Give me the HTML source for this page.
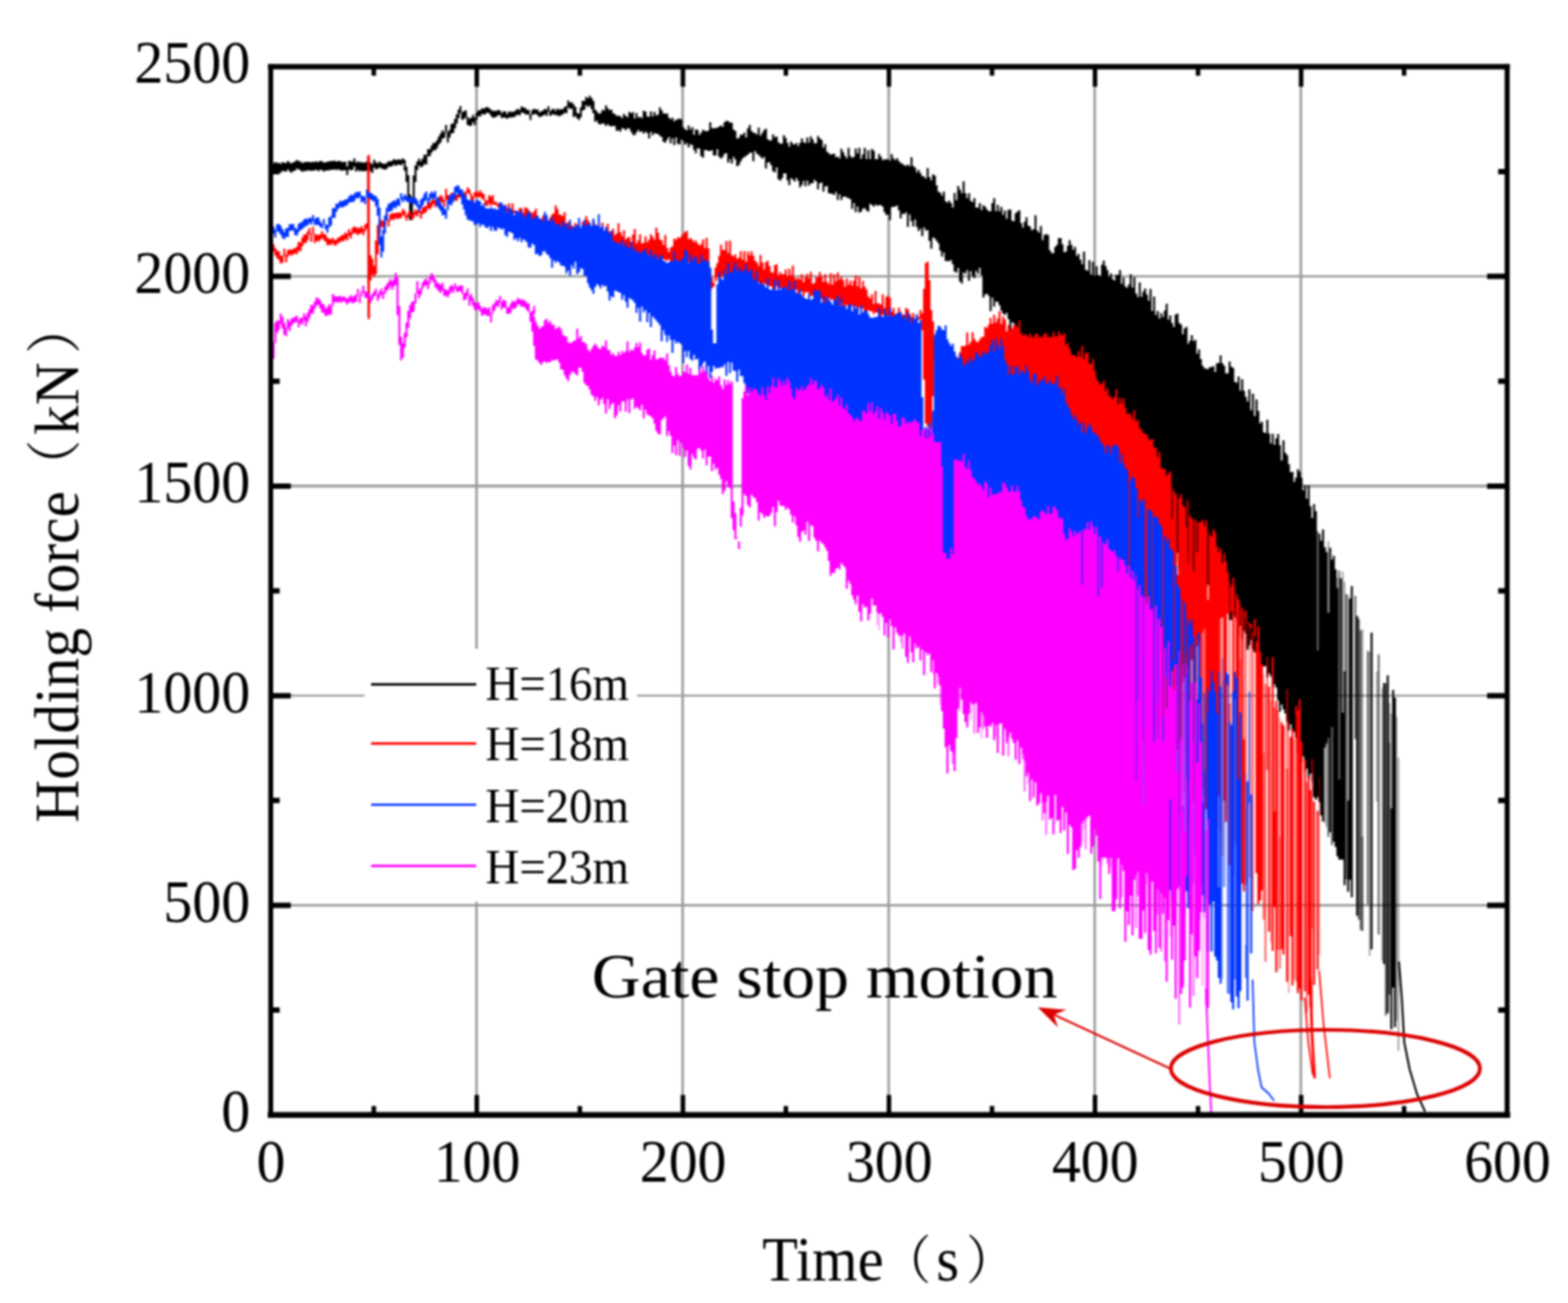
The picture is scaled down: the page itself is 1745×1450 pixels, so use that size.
<!DOCTYPE html>
<html lang="en"><head><meta charset="utf-8"><title>Holding force vs time</title>
<style>
html,body{margin:0;padding:0;background:#fff;}
body{width:1745px;height:1450px;overflow:hidden;}
svg{display:block;filter:blur(0.8px);}
</style></head>
<body>
<svg width="1745" height="1450" viewBox="0 0 1745 1450" role="img" aria-label="Holding force versus time for four water heads">
<rect width="1745" height="1450" fill="#fff"/>
<g stroke="#9c9c9c" fill="none">
<path d="M530.3 74.3V1240.8" stroke-width="2.8"/>
<path d="M759.7 74.3V1240.8" stroke-width="2.8"/>
<path d="M989 74.3V1240.8" stroke-width="2.8"/>
<path d="M1218.3 74.3V1240.8" stroke-width="2.8"/>
<path d="M1447.7 74.3V1240.8" stroke-width="2.8"/>
<path d="M301.3 1007.4H1677.3" stroke-width="2.6"/>
<path d="M301.3 774.1H1677.3" stroke-width="2.1"/>
<path d="M301.3 540.8H1677.3" stroke-width="3.3"/>
<path d="M301.3 307.5H1677.3" stroke-width="2.7"/>
</g>
<rect x="405.6" y="722" width="303.4" height="281.5" fill="#fff"/>
<g id="curves">
<g><path d="M665.3 126.4H667.5V137.8H665.3ZM667.3 125.9H669.5V138.5H667.3ZM669.3 122.2H671.5V137.2H669.3ZM671.3 122.9H673.5V137.8H671.3ZM673.3 117.2H675.5V140.3H673.3ZM675.3 120.4H677.5V138.2H675.3ZM677.3 122.4H679.5V140H677.3ZM679.3 122.1H681.5V140.7H679.3ZM681.3 126H683.5V140.1H681.3ZM683.3 127H685.5V140.5H683.3ZM685.3 129.2H687.5V145.7H685.3ZM687.3 128.6H689.5V144.7H687.3ZM689.3 129.6H691.5V146.5H689.3ZM691.3 131.4H693.5V142.7H691.3ZM693.3 126.8H695.5V142.9H693.3ZM695.3 129H697.5V145.1H695.3ZM697.3 130.4H699.5V142.7H697.3ZM699.3 124.5H701.5V142.9H699.3ZM701.3 125.9H703.5V146.4H701.3ZM703.3 124.8H705.5V149.8H703.3ZM705.3 131.8H707.5V150.6H705.3ZM707.3 125.7H709.5V147.2H707.3ZM709.3 130.7H711.5V144.6H709.3ZM711.3 129.9H713.5V147H711.3ZM713.3 131.4H715.5V145.9H713.3ZM715.3 123.2H717.5V148.8H715.3ZM717.3 124.3H719.5V146.4H717.3ZM719.3 129.4H721.5V148.1H719.3ZM721.3 129.9H723.5V153.9H721.3ZM723.3 124.1H725.5V146.7H723.3ZM725.3 129.5H727.5V150.6H725.3ZM727.3 124.5H729.5V147.9H727.3ZM729.3 128.5H731.5V149H729.3ZM731.3 127.5H733.5V149H731.3ZM733.3 119.5H735.5V151.2H733.3ZM735.3 122.8H737.5V152.4H735.3ZM737.3 126.2H739.5V157.7H737.3ZM739.3 126.6H741.5V158.7H739.3ZM741.3 126.2H743.5V155.4H741.3ZM743.3 130.7H745.5V152.4H743.3ZM745.3 132.7H747.5V159.5H745.3ZM747.3 131H749.5V154H747.3ZM749.3 134.9H751.5V161.4H749.3ZM751.3 133.2H753.5V152.9H751.3ZM753.3 132.8H755.5V159.9H753.3ZM755.3 131.7H757.5V160.8H755.3ZM757.3 132.9H759.5V155.2H757.3ZM759.3 141.7H761.5V156.9H759.3ZM761.3 143.7H763.5V161H761.3ZM763.3 145H765.5V159.3H763.3ZM765.3 139.7H767.5V164H765.3ZM767.3 144.3H769.5V160.4H767.3ZM769.3 141.5H771.5V161.4H769.3ZM771.3 150.1H773.5V166.8H771.3ZM773.3 143.9H775.5V170.5H773.3ZM775.3 144.8H777.5V165H775.3ZM777.3 150.3H779.5V165.6H777.3ZM779.3 147.8H781.5V173.7H779.3ZM781.3 144.6H783.5V175.4H781.3ZM783.3 145.6H785.5V166.9H783.3ZM785.3 146.2H787.5V167.1H785.3ZM787.3 145.3H789.5V168H787.3ZM789.3 135.9H791.5V167.9H789.3ZM791.3 142.5H793.5V166.9H791.3ZM793.3 142.7H795.5V172.9H793.3ZM795.3 142.4H797.5V173.1H795.3ZM797.3 142H799.5V166.1H797.3ZM799.3 140.9H801.5V174.6H799.3ZM801.3 139.6H803.5V176.6H801.3ZM803.3 141.3H805.5V174.6H803.3ZM805.3 136.1H807.5V170.9H805.3ZM807.3 134.4H809.5V170.5H807.3ZM809.3 134.7H811.5V181H809.3ZM811.3 136.5H813.5V177.3H811.3ZM813.3 136.4H815.5V181.9H813.3ZM815.3 144.3H817.5V174.4H815.3ZM817.3 145.7H819.5V177.5H817.3ZM819.3 154.2H821.5V184.9H819.3ZM821.3 153.4H823.5V183.6H821.3ZM823.3 149.8H825.5V179.5H823.3ZM825.3 149.9H827.5V176.3H825.3ZM827.3 147.4H829.5V174.7H827.3ZM829.3 153H831.5V173.4H829.3ZM831.3 142.7H833.5V171.9H831.3ZM833.3 139.1H835.5V169.9H833.3ZM835.3 145.7H837.5V169.7H835.3ZM837.3 147.8H839.5V179.6H837.3ZM839.3 148.1H841.5V167.9H839.3ZM841.3 149.8H843.5V170.9H841.3ZM843.3 142.1H845.5V172.4H843.3ZM845.3 150.9H847.5V174.6H845.3ZM847.3 148H849.5V176.4H847.3ZM849.3 144.7H851.5V174.6H849.3ZM851.3 143.3H853.5V187.6H851.3ZM853.3 155.1H855.5V181.1H853.3ZM855.3 156.3H857.5V180.6H855.3ZM857.3 156.3H859.5V183.9H857.3ZM859.3 149.4H861.5V190.5H859.3ZM861.3 152.7H863.5V191.7H861.3ZM863.3 152H865.5V186.2H863.3ZM865.3 158.2H867.5V199.4H865.3ZM867.3 160H869.5V201.1H867.3ZM869.3 159.8H871.5V198.3H869.3ZM871.3 150.4H873.5V193.1H871.3ZM873.3 153.5H875.5V193H873.3ZM875.3 158.9H877.5V200.7H875.3ZM877.3 163.3H879.5V206H877.3ZM879.3 157.6H881.5V198.3H879.3ZM881.3 160H883.5V199.8H881.3ZM883.3 161.1H885.5V202H883.3ZM885.3 159H887.5V197.9H885.3ZM887.3 162.6H889.5V201.2H887.3ZM889.3 159H891.5V208.4H889.3ZM891.3 154.1H893.5V205.7H891.3ZM893.3 158.3H895.5V201.3H893.3ZM895.3 159.2H897.5V207.3H895.3ZM897.3 153H899.5V201.1H897.3ZM899.3 158.8H901.5V206.4H899.3ZM901.3 151.7H903.5V203.9H901.3ZM903.3 154.9H905.5V204H903.3ZM905.3 159.3H907.5V200.1H905.3ZM907.3 159.6H909.5V201.9H907.3ZM909.3 151.2H911.5V210.7H909.3ZM911.3 154H913.5V204.1H911.3ZM913.3 155.7H915.5V203.1H913.3ZM915.3 164.3H917.5V213.2H915.3ZM917.3 160.4H919.5V207.5H917.3ZM919.3 168.7H921.5V207.1H919.3ZM921.3 170.6H923.5V215.1H921.3ZM923.3 171.9H925.5V215.4H923.3ZM925.3 171.5H927.5V215.8H925.3ZM927.3 171.1H929.5V217H927.3ZM929.3 174.9H931.5V213.6H929.3ZM931.3 174.2H933.5V222.6H931.3ZM933.3 176.3H935.5V216.2H933.3ZM935.3 165.4H937.5V222.6H935.3ZM937.3 169.2H939.5V218.9H937.3ZM939.3 173.4H941.5V218.5H939.3ZM941.3 176.3H943.5V219.7H941.3ZM943.3 164.4H945.5V220.5H943.3ZM945.3 173.6H947.5V221.7H945.3ZM947.3 175.7H949.5V232.6H947.3ZM949.3 174.4H951.5V225.9H949.3ZM951.3 165.3H953.5V236H951.3ZM953.3 170.8H955.5V229.7H953.3ZM955.3 164.5H957.5V236.6H955.3ZM957.3 176.7H959.5V235.6H957.3ZM959.3 171.7H961.5V232.2H959.3ZM961.3 164.6H963.5V231.4H961.3ZM963.3 177H965.5V234.3H963.3ZM965.3 167.3H967.5V235.4H965.3ZM967.3 177H969.5V226.8H967.3ZM969.3 165.8H971.5V228H969.3ZM971.3 167.7H973.5V229.9H971.3ZM973.3 176.9H975.5V227.6H973.3ZM975.3 177.3H977.5V228.9H975.3ZM977.3 171.3H979.5V228.2H977.3ZM979.3 174.6H981.5V228.2H979.3ZM981.3 178.3H983.5V230H981.3ZM983.3 177.2H985.5V235.9H983.3ZM985.3 177.5H987.5V239.2H985.3ZM987.3 176.9H989.5V238.8H987.3ZM989.3 178.9H991.5V245H989.3ZM991.3 171.5H993.5V230.6H991.3ZM993.3 176.2H995.5V230.3H993.3ZM995.3 178.3H997.5V229.8H995.3ZM997.3 176.1H999.5V228.8H997.3ZM999.3 179.2H1001.5V233.9H999.3ZM1001.3 181.2H1003.5V243.1H1001.3ZM1003.3 182.5H1005.5V237.8H1003.3ZM1005.3 183.7H1007.5V238.2H1005.3ZM1007.3 184.8H1009.5V236.2H1007.3ZM1009.3 183.1H1011.5V252.6H1009.3ZM1011.3 185H1013.5V238.7H1011.3ZM1013.3 175.1H1015.5V246.2H1013.3ZM1015.3 184.7H1017.5V251.9H1015.3ZM1017.3 186.4H1019.5V244.3H1017.3ZM1019.3 191.7H1021.5V252.4H1019.3ZM1021.3 189H1023.5V256.9H1021.3ZM1023.3 192.7H1025.5V254.4H1023.3ZM1025.3 195.9H1027.5V262.7H1025.3ZM1027.3 196.5H1029.5V253H1027.3ZM1029.3 198.7H1031.5V256.4H1029.3ZM1031.3 187H1033.5V256H1031.3ZM1033.3 197.1H1035.5V268H1033.3ZM1035.3 200.7H1037.5V276.7H1035.3ZM1037.3 194.1H1039.5V264.2H1037.3ZM1039.3 195.4H1041.5V265.3H1039.3ZM1041.3 206.2H1043.5V267.9H1041.3ZM1043.3 213.3H1045.5V270.8H1043.3ZM1045.3 214.4H1047.5V279.1H1045.3ZM1047.3 217.7H1049.5V285.6H1047.3ZM1049.3 213.3H1051.5V281H1049.3ZM1051.3 223.9H1053.5V290.6H1051.3ZM1053.3 225.4H1055.5V290.3H1053.3ZM1055.3 223.3H1057.5V290.7H1055.3ZM1057.3 225.9H1059.5V289.2H1057.3ZM1059.3 231.1H1061.5V294.1H1059.3ZM1061.3 214.8H1063.5V302H1061.3ZM1063.3 222.7H1065.5V303.5H1063.3ZM1065.3 207.1H1067.5V298.3H1065.3ZM1067.3 210.9H1069.5V313.2H1067.3ZM1069.3 215.1H1071.5V315.5H1069.3ZM1071.3 201.8H1073.5V303.2H1071.3ZM1073.3 215H1075.5V304.6H1073.3ZM1075.3 220.5H1077.5V300.8H1075.3ZM1077.3 215.1H1079.5V312.6H1077.3ZM1079.3 223.6H1081.5V301.7H1079.3ZM1081.3 225.1H1083.5V307.2H1081.3ZM1083.3 220.5H1085.5V309.6H1083.3ZM1085.3 231H1087.5V301.4H1085.3ZM1087.3 230.9H1089.5V304.8H1087.3ZM1089.3 226H1091.5V297.9H1089.3ZM1091.3 233.7H1093.5V306.3H1091.3ZM1093.3 228.4H1095.5V331.3H1093.3ZM1095.3 230.1H1097.5V327.8H1095.3ZM1097.3 233H1099.5V326.7H1097.3ZM1099.3 234.9H1101.5V329.3H1099.3ZM1101.3 235H1103.5V346.3H1101.3ZM1103.3 226H1105.5V331.2H1103.3ZM1105.3 220.4H1107.5V341.2H1105.3ZM1107.3 235.1H1109.5V335.4H1107.3ZM1109.3 228H1111.5V335.9H1109.3ZM1111.3 234.9H1113.5V339.8H1111.3ZM1113.3 230.2H1115.5V345.4H1113.3ZM1115.3 239H1117.5V349.1H1115.3ZM1117.3 234.3H1119.5V350.6H1117.3ZM1119.3 243.4H1121.5V347.9H1119.3ZM1121.3 233.6H1123.5V355H1121.3ZM1123.3 233.2H1125.5V371.9H1123.3ZM1125.3 245.4H1127.5V358.5H1125.3ZM1127.3 246.3H1129.5V360H1127.3ZM1129.3 237.3H1131.5V377.9H1129.3ZM1131.3 235.4H1133.5V370.5H1131.3ZM1133.3 234H1135.5V375H1133.3ZM1135.3 248.2H1137.5V374.9H1135.3ZM1137.3 253.3H1139.5V373.9H1137.3ZM1139.3 246.7H1141.5V387.4H1139.3ZM1141.3 241.8H1143.5V379H1141.3ZM1143.3 250.9H1145.5V400.8H1143.3ZM1145.3 252.2H1147.5V394.3H1145.3ZM1147.3 256.2H1149.5V394.3H1147.3ZM1149.3 255.1H1151.5V400H1149.3ZM1151.3 239.4H1153.5V399H1151.3ZM1153.3 256.5H1155.5V409.6H1153.3ZM1155.3 259H1157.5V407H1155.3ZM1157.3 251.5H1159.5V408.4H1157.3ZM1159.3 267.2H1161.5V406.2H1159.3ZM1161.3 261.5H1163.5V426H1161.3ZM1163.3 260.5H1165.5V410.9H1163.3ZM1165.3 261.4H1167.5V428.8H1165.3ZM1167.3 278.6H1169.5V421.9H1167.3ZM1169.3 281.6H1171.5V432.1H1169.3ZM1171.3 281.8H1173.5V423H1171.3ZM1173.3 274.8H1175.5V428.3H1173.3ZM1175.3 272.6H1177.5V428.9H1175.3ZM1177.3 264.9H1179.5V431.1H1177.3ZM1179.3 265H1181.5V436.2H1179.3ZM1181.3 271.8H1183.5V435.2H1181.3ZM1183.3 280.8H1185.5V440.2H1183.3ZM1185.3 280.1H1187.5V441.9H1185.3ZM1187.3 273.4H1189.5V446.1H1187.3ZM1189.3 267.2H1191.5V453.6H1189.3ZM1191.3 272.5H1193.5V453.6H1191.3ZM1193.3 277.9H1195.5V452.1H1193.3ZM1195.3 274.8H1197.5V456.3H1195.3ZM1197.3 284.7H1199.5V461.7H1197.3ZM1199.3 282.6H1201.5V471.8H1199.3ZM1201.3 289.1H1203.5V468.3H1201.3ZM1203.3 294.1H1205.5V476.7H1203.3ZM1205.3 279.9H1207.5V468.3H1205.3ZM1207.3 300.2H1209.5V477.3H1207.3ZM1209.3 301.3H1211.5V477.6H1209.3ZM1211.3 289.5H1213.5V495.6H1211.3ZM1213.3 305.4H1215.5V483.2H1213.3ZM1215.3 291.2H1217.5V492.4H1215.3ZM1217.3 306.8H1219.5V502.6H1217.3ZM1219.3 296.3H1221.5V493.1H1219.3ZM1221.3 306H1223.5V498.1H1221.3ZM1223.3 307.5H1225.5V502H1223.3ZM1225.3 294.6H1227.5V496.4H1225.3ZM1227.3 290.1H1229.5V513.1H1227.3ZM1229.3 295.9H1231.5V502.9H1229.3ZM1231.3 300.4H1233.5V514.1H1231.3ZM1233.3 308.1H1235.5V511H1233.3ZM1235.3 304.3H1237.5V523.5H1235.3ZM1237.3 310.8H1239.5V518.5H1237.3ZM1239.3 312H1241.5V520.8H1239.3ZM1241.3 305.5H1243.5V538.4H1241.3ZM1243.3 305.9H1245.5V538.9H1243.3ZM1245.3 300.6H1247.5V530.2H1245.3ZM1247.3 315.8H1249.5V542.6H1247.3ZM1249.3 309.1H1251.5V536.4H1249.3ZM1251.3 318.8H1253.5V552.9H1251.3ZM1253.3 320.2H1255.5V553H1253.3ZM1255.3 316.6H1257.5V540H1255.3ZM1257.3 305.3H1259.5V555.8H1257.3ZM1259.3 320H1261.5V565.1H1259.3ZM1261.3 308.5H1263.5V551.1H1261.3ZM1263.3 326.5H1265.5V568.5H1263.3ZM1265.3 330.4H1267.5V564.4H1265.3ZM1267.3 314.2H1269.5V574.5H1267.3ZM1269.3 330.3H1271.5V578.3H1269.3ZM1271.3 324.5H1273.5V579.5H1271.3ZM1273.3 321H1275.5V579.8H1273.3ZM1275.3 327.8H1277.5V567.3H1275.3ZM1277.3 334.6H1279.5V576.5H1277.3ZM1279.3 321.6H1281.5V590.6H1279.3ZM1281.3 346H1283.5V593.6H1281.3ZM1283.3 330H1285.5V586.9H1283.3ZM1285.3 350.5H1287.5V581.2H1285.3ZM1287.3 346.1H1289.5V596.4H1287.3ZM1289.3 354.6H1291.5V588.4H1289.3ZM1291.3 348.6H1293.5V589.5H1291.3ZM1293.3 352.8H1295.5V599.9H1293.3ZM1295.3 345.4H1297.5V598.7H1295.3ZM1297.3 338.1H1299.5V598H1297.3ZM1299.3 355.8H1301.5V607.8H1299.3ZM1301.3 351H1303.5V607.2H1301.3ZM1303.3 359.5H1305.5V608.8H1303.3ZM1305.3 363.9H1307.5V607.8H1305.3ZM1307.3 349.9H1309.5V625H1307.3ZM1309.3 348.9H1311.5V614.9H1309.3ZM1311.3 359.4H1313.5V632.8H1311.3ZM1313.3 361.3H1315.5V629.6H1313.3ZM1315.3 372H1317.5V629.1H1315.3ZM1317.3 365.5H1319.5V621H1317.3ZM1319.3 363.7H1321.5V632.2H1319.3ZM1321.3 382.5H1323.5V634.2H1321.3ZM1323.3 379H1325.5V627.6H1323.3ZM1325.3 372.9H1327.5V631.8H1325.3ZM1327.3 379.6H1329.5V648H1327.3ZM1329.3 378.2H1331.5V634.3H1329.3ZM1331.3 393.4H1333.5V640.4H1331.3ZM1333.3 388.8H1335.5V647.1H1333.3ZM1335.3 399.4H1337.5V647.4H1335.3ZM1337.3 407.1H1339.5V646.9H1337.3ZM1339.3 409.7H1341.5V652.8H1339.3ZM1341.3 410.2H1343.5V653.9H1341.3ZM1343.3 410.9H1345.5V650.6H1343.3ZM1345.3 408.5H1347.5V651.3H1345.3ZM1347.3 408.4H1349.5V664.7H1347.3ZM1349.3 407.5H1351.5V655.7H1349.3ZM1351.3 414.1H1353.5V657.8H1351.3ZM1353.3 404.3H1355.5V673.4H1353.3ZM1355.3 404.1H1357.5V661.1H1355.3ZM1357.3 395.6H1359.5V664.3H1357.3ZM1359.3 404.2H1361.5V668.9H1359.3ZM1361.3 406.9H1363.5V677H1361.3ZM1363.3 415.5H1365.5V681.7H1363.3ZM1365.3 415.6H1367.5V674.1H1365.3ZM1367.3 402.2H1369.5V690.1H1367.3ZM1369.3 408H1371.5V689.8H1369.3ZM1371.3 409.4H1373.5V683.6H1371.3ZM1373.3 425H1375.5V686.8H1373.3ZM1375.3 425.9H1377.5V691.3H1375.3ZM1377.3 418.9H1379.5V708.6H1377.3ZM1379.3 434.8H1381.5V696.5H1379.3ZM1381.3 422H1383.5V711H1381.3ZM1383.3 434.7H1385.5V702.3H1383.3ZM1385.3 441.5H1387.5V704.9H1385.3ZM1387.3 446.8H1389.5V723.1H1387.3ZM1389.3 433.2H1391.5V718.3H1389.3ZM1391.3 456.4H1393.5V712.6H1391.3ZM1393.3 438H1395.5V722.4H1393.3ZM1395.3 462.9H1397.5V726.1H1395.3ZM1397.3 444.6H1399.5V725.4H1397.3ZM1399.3 457.3H1401.5V730.9H1399.3ZM1401.3 471H1403.5V741.7H1401.3ZM1403.3 469.2H1405.5V742.3H1403.3ZM1405.3 480.9H1407.5V741.8H1405.3ZM1407.3 481.9H1409.5V741.3H1407.3ZM1409.3 467H1411.5V753.7H1409.3ZM1411.3 482.4H1413.5V749.3H1411.3ZM1413.3 493.5H1415.5V752.7H1413.3ZM1415.3 482.8H1417.5V765.3H1415.3ZM1417.3 495H1419.5V761.6H1417.3ZM1419.3 487.8H1421.5V765.3H1419.3ZM1421.3 483.1H1423.5V779.3H1421.3ZM1423.3 495.4H1425.5V792.1H1423.3ZM1425.3 512.6H1427.5V783.9H1425.3ZM1427.3 489.9H1429.5V789.4H1427.3ZM1429.3 503.8H1431.5V794.1H1429.3ZM1431.3 506.5H1433.5V803.1H1431.3ZM1433.3 516.4H1435.5V812.8H1433.3ZM1435.3 525.6H1437.5V806.1H1435.3ZM1437.3 524.9H1439.5V812.9H1437.3ZM1439.3 536.2H1441.5V814.4H1439.3ZM1441.3 531.4H1443.5V820.9H1441.3ZM1443.3 522.2H1445.5V837.4H1443.3ZM1445.3 524.8H1447.5V831.6H1445.3ZM1447.3 531.5H1449.5V848.7H1447.3ZM1449.3 545.5H1451.5V841.5H1449.3ZM1451.3 539.9H1453.5V858.2H1451.3ZM1453.3 555H1455.5V855.3H1453.3ZM1455.3 540.3H1457.5V866.7H1455.3ZM1457.3 563.3H1459.5V861.3H1457.3ZM1459.3 576.6H1461.5V860H1459.3ZM1461.3 561.1H1463.5V886.9H1461.3ZM1463.3 568.8H1465.5V890.1H1463.3ZM1465.3 724H1467.5V887H1465.3ZM1467.3 594H1469.5V892.5H1467.3ZM1469.3 601.7H1471.5V907.4H1469.3ZM1471.3 589.2H1473.5V914.3H1471.3ZM1473.3 609H1475.5V832H1473.3ZM1475.3 614.3H1477.5V827.6H1475.3ZM1477.3 681.7H1479.5V821.3H1477.3ZM1479.3 609.4H1481.5V926.3H1479.3ZM1481.3 622.8H1483.5V809.2H1481.3ZM1483.3 618.4H1485.5V936.7H1483.3ZM1485.3 633.4H1487.5V942.5H1485.3ZM1487.3 654.2H1489.5V952.8H1487.3ZM1489.3 867.3H1491.5V956.5H1489.3ZM1491.3 643.4H1493.5V956.4H1491.3ZM1493.3 793.1H1495.5V956.8H1493.3ZM1495.3 747.1H1497.5V985.1H1495.3ZM1499.3 890.8H1501.5V992.3H1499.3ZM1501.3 666.1H1503.5V978.9H1501.3ZM1503.3 652.2H1505.5V998.5H1503.3ZM1509.3 685.5H1511.5V1019.3H1509.3ZM1525.3 704H1527.5V1056.6H1525.3ZM1539.3 760.1H1541.5V1072.9H1539.3ZM1543.3 751.4H1545.5V1127.4H1543.3ZM1547.3 899.6H1549.5V1145.5H1547.3ZM1549.3 767.7H1551.5V1099.1H1549.3ZM1551.3 776.2H1553.5V1143H1551.3Z" fill="#000000"/>
<path d="M1459.3 860H1461.3V869.9H1459.3ZM1465.3 590.9H1467.3V724H1465.3ZM1477.3 821.3H1479.3V931.2H1477.3ZM1481.3 809.2H1483.3V940.5H1481.3ZM1489.3 634.9H1491.3V867.3H1489.3ZM1497.3 661H1499.3V978.5H1497.3ZM1507.3 663H1509.3V822.6H1507.3ZM1511.3 688.8H1513.3V1023.4H1511.3ZM1513.3 701.5H1515.3V1035H1513.3ZM1515.3 930.8H1517.3V1035.9H1515.3ZM1521.3 724.5H1523.3V1006.6H1521.3ZM1533.3 728.2H1535.3V1040.1H1533.3ZM1541.3 760.5H1543.3V1130.3H1541.3ZM1545.3 826.6H1547.3V1107.1H1545.3Z" fill="#000000" fill-opacity="0.65"/>
<path d="M1473.3 832H1475.3V916.1H1473.3ZM1475.3 827.6H1477.3V920.6H1475.3ZM1477.3 602.5H1479.3V681.7H1477.3ZM1487.3 642.7H1489.3V654.2H1487.3ZM1493.3 636.1H1495.3V793.1H1493.3ZM1495.3 647.5H1497.3V747.1H1495.3ZM1499.3 661.9H1501.3V890.8H1499.3ZM1515.3 700.3H1517.3V930.8H1515.3ZM1523.3 725.3H1525.3V1063.6H1523.3ZM1531.3 747.2H1533.3V891.9H1531.3ZM1537.3 765.5H1539.3V998.5H1537.3ZM1537.3 998.5H1539.3V1069.2H1537.3ZM1545.3 782.6H1547.3V826.6H1545.3ZM1547.3 793.9H1549.3V899.6H1547.3ZM1553.3 797.5H1555.3V1135.9H1553.3ZM1555.3 843.2H1557.3V1169.3H1555.3Z" fill="#000000" fill-opacity="0.35"/>
<path d="M303.3 181.8H305.5V191.8H303.3ZM305.3 180.3H307.5V189.9H305.3ZM307.3 181.4H309.5V191.4H307.3ZM309.3 180.9H311.5V190.6H309.3ZM311.3 182.6H313.5V192.3H311.3ZM313.3 180.5H315.5V190H313.3ZM315.3 181H317.5V190.7H315.3ZM317.3 181.5H319.5V191H317.3ZM319.3 178.9H321.5V188.4H319.3ZM321.3 180.7H323.5V190.8H321.3ZM323.3 182.1H325.5V192.2H323.3ZM325.3 180.6H327.5V190.3H325.3ZM327.3 179.8H329.5V189.9H327.3ZM329.3 177.9H331.5V187.6H329.3ZM331.3 179.3H333.5V188.6H331.3ZM333.3 179.8H335.5V189.5H333.3ZM335.3 181.5H337.5V191.3H335.3ZM337.3 180.6H339.5V190.3H337.3ZM339.3 180.3H341.5V190.5H339.3ZM341.3 180H343.5V189.2H341.3ZM343.3 180.2H345.5V189.9H343.3ZM345.3 180.4H347.5V190.1H345.3ZM347.3 179.9H349.5V190.1H347.3ZM349.3 180.2H351.5V189.6H349.3ZM351.3 179.6H353.5V189H351.3ZM353.3 180.6H355.5V190.6H353.3ZM355.3 178.9H357.5V189H355.3ZM357.3 179.6H359.5V189.2H357.3ZM359.3 181H361.5V190.9H359.3ZM361.3 180.5H363.5V189.8H361.3ZM363.3 180H365.5V189.7H363.3ZM365.3 179.4H367.5V189.5H365.3ZM367.3 179.3H369.5V189H367.3ZM369.3 179.1H371.5V189.1H369.3ZM371.3 178.7H373.5V188.6H371.3ZM373.3 180H375.5V189.2H373.3ZM375.3 179H377.5V188.6H375.3ZM377.3 179.2H379.5V189.3H377.3ZM379.3 180.2H381.5V190.1H379.3ZM381.3 180.2H383.5V189.6H381.3ZM383.3 179.9H385.5V189.6H383.3ZM385.3 185.2H387.5V194.8H385.3ZM387.3 178.9H389.5V188.8H387.3ZM389.3 179.4H391.5V189.5H389.3ZM391.3 179.7H393.5V189.1H391.3ZM393.3 176.2H395.5V185.3H393.3ZM395.3 181.1H397.5V191H395.3ZM397.3 179.4H399.5V188.9H397.3ZM399.3 180.7H401.5V190.7H399.3ZM401.3 180.2H403.5V189.8H401.3ZM403.3 181.3H405.5V190.7H403.3ZM405.3 180.5H407.5V190.3H405.3ZM407.3 180.1H409.5V190H407.3ZM409.3 176.3H411.5V186.1H409.3ZM411.3 180.9H413.5V190.6H411.3ZM413.3 182.9H415.5V192.6H413.3ZM415.3 177.7H417.5V186.3H415.3ZM417.3 180.4H419.5V188.5H417.3ZM419.3 181.7H421.5V187.7H419.3ZM421.3 179.8H423.5V186.2H421.3ZM423.3 181.2H425.5V187.4H423.3ZM425.3 181.9H427.5V187.9H425.3ZM427.3 182.4H429.5V188.9H427.3ZM429.3 181.3H431.5V187.7H429.3ZM431.3 179.5H433.5V185.5H431.3ZM433.3 179.6H435.5V185.6H433.3ZM435.3 179H437.5V185.1H435.3ZM437.3 176.9H439.5V183H437.3ZM439.3 177.9H441.5V184.6H439.3ZM441.3 177.7H443.5V183.6H441.3ZM443.3 177.3H445.5V183.1H443.3ZM445.3 177.9H447.5V184H445.3ZM447.3 176.2H449.5V181.9H447.3ZM449.3 178.1H451.5V190H449.3ZM451.3 185.6H453.5V202.5H451.3ZM453.3 194.9H455.5V223.5H453.3ZM455.3 216.6H457.5V245H455.3ZM457.3 219.5H459.5V245H457.3ZM459.3 195.2H461.5V226.7H459.3ZM461.3 184H463.5V202.5H461.3ZM463.3 179.8H465.5V189.3H463.3ZM465.3 176.5H467.5V183.9H465.3ZM467.3 179.5H469.5V186.2H467.3ZM469.3 176.4H471.5V185H469.3ZM471.3 171.9H473.5V182.6H471.3ZM473.3 172.6H475.5V182.9H473.3ZM475.3 166H477.5V174H475.3ZM477.3 166H479.5V173.7H477.3ZM479.3 161.9H481.5V169.8H479.3ZM481.3 159H483.5V167.3H481.3ZM483.3 158.8H485.5V167.2H483.3ZM485.3 156.1H487.5V164.8H485.3ZM487.3 151.9H489.5V160.8H487.3ZM489.3 148.5H491.5V158.4H489.3ZM491.3 145.1H493.5V154.2H491.3ZM493.3 147.1H495.5V153.6H493.3ZM495.3 138.9H497.5V147.4H495.3ZM497.3 147.1H499.5V158.4H497.3ZM499.3 144.4H501.5V153.1H499.3ZM501.3 138H503.5V148.5H501.3ZM503.3 137.3H505.5V148H503.3ZM505.3 132.2H507.5V142.7H505.3ZM507.3 127.2H509.5V137.4H507.3ZM509.3 122H511.5V131.4H509.3ZM511.3 117.9H513.5V125.8H511.3ZM513.3 125H515.5V133.2H513.3ZM515.3 123.8H517.5V132.5H515.3ZM517.3 122.7H519.5V130.4H517.3ZM519.3 130.1H521.5V139.1H519.3ZM521.3 132.3H523.5V140.1H521.3ZM523.3 130.9H525.5V139.9H523.3ZM525.3 127.8H527.5V136H525.3ZM527.3 130.9H529.5V139.2H527.3ZM529.3 125.5H531.5V133.3H529.3ZM531.3 122.8H533.5V129.1H531.3ZM533.3 122.8H535.5V129.8H533.3ZM535.3 120.6H537.5V126.7H535.3ZM537.3 121.1H539.5V127.5H537.3ZM539.3 119.8H541.5V126.8H539.3ZM541.3 119.1H543.5V125.2H541.3ZM543.3 120.5H545.5V126H543.3ZM545.3 121.9H547.5V128.7H545.3ZM547.3 123.4H549.5V130.9H547.3ZM549.3 123.2H551.5V130.8H549.3ZM551.3 123.6H553.5V129.8H551.3ZM553.3 122.3H555.5V128.3H553.3ZM555.3 123H557.5V128.3H555.3ZM557.3 126H559.5V131.6H557.3ZM559.3 123.7H561.5V130.8H559.3ZM561.3 124.1H563.5V131H561.3ZM563.3 127H565.5V132.3H563.3ZM565.3 123.9H567.5V130.7H565.3ZM567.3 124.5H569.5V130.7H567.3ZM569.3 124.3H571.5V130.5H569.3ZM571.3 124.2H573.5V130.2H571.3ZM573.3 122.3H575.5V128.4H573.3ZM575.3 121.3H577.5V127.4H575.3ZM577.3 122.6H579.5V128.6H577.3ZM579.3 118.4H581.5V125.3H579.3ZM581.3 119.4H583.5V125.5H581.3ZM583.3 120.1H585.5V126.9H583.3ZM585.3 122.2H587.5V127.6H585.3ZM587.3 122.2H589.5V127.8H587.3ZM589.3 127.5H591.5V133.5H589.3ZM591.3 122.4H593.5V128H591.3ZM593.3 120.9H595.5V127H593.3ZM595.3 121.9H597.5V126.8H595.3ZM597.3 121.7H599.5V128.3H597.3ZM599.3 125.1H601.5V130.6H599.3ZM601.3 123.8H603.5V129.5H601.3ZM603.3 123H605.5V128.7H603.3ZM605.3 121.1H607.5V127.2H605.3ZM607.3 122.2H609.5V129H607.3ZM609.3 118.2H611.5V124.6H609.3ZM611.3 123.7H613.5V129.1H611.3ZM613.3 121.7H615.5V127.5H613.3ZM615.3 120.9H617.5V127.3H615.3ZM617.3 123.5H619.5V128.2H617.3ZM619.3 120.7H621.5V128.2H619.3ZM621.3 122H623.5V129.5H621.3ZM623.3 121.6H625.5V128.3H623.3ZM625.3 121.4H627.5V127.2H625.3ZM627.3 119.3H629.5V125.5H627.3ZM629.3 118H631.5V126H629.3ZM631.3 111.8H633.5V119.6H631.3ZM633.3 114.2H635.5V121.3H633.3ZM635.3 113.8H637.5V120.7H635.3ZM637.3 116.2H639.5V130.3H637.3ZM639.3 119.1H641.5V129H639.3ZM641.3 125.8H643.5V131.7H641.3ZM643.3 126.6H645.5V133.4H643.3ZM645.3 119.4H647.5V130.4H645.3ZM647.3 111.9H649.5V123.1H647.3ZM649.3 112.4H651.5V122H649.3ZM651.3 107.8H653.5V117H651.3ZM653.3 109.6H655.5V119.1H653.3ZM655.3 106.4H657.5V117.6H655.3ZM657.3 109H659.5V121.6H657.3ZM659.3 112.3H661.5V125.9H659.3ZM661.3 122.1H663.5V135.4H661.3ZM663.3 124.3H665.5V133.9H663.3ZM665.3 127.6H667.5V136.4H665.3ZM667.3 126.9H669.5V136.2H667.3Z" fill="#000000"/>
<path d="M1556.8 1070L1560 1110L1562.8 1160L1568.8 1190L1576.8 1217L1586 1237" fill="none" stroke="#000000" stroke-width="2.2" stroke-linejoin="round"/></g>
<g><path d="M543.3 221.6H545.5V226.2H543.3ZM545.3 223.1H547.5V228.9H545.3ZM547.3 223.1H549.5V226.8H547.3ZM549.3 224.6H551.5V228.1H549.3ZM551.3 224.8H553.5V228.2H551.3ZM553.3 226.8H555.5V230.9H553.3ZM555.3 227H557.5V230.3H555.3ZM557.3 227.9H559.5V230.6H557.3ZM559.3 228.8H561.5V231.5H559.3ZM561.3 227.8H563.5V232.3H561.3ZM563.3 231.1H565.5V236.7H563.3ZM565.3 226.3H567.5V237.7H565.3ZM567.3 232.5H569.5V235.7H567.3ZM569.3 226.3H571.5V238.9H569.3ZM571.3 234.2H573.5V237.3H571.3ZM573.3 234.7H575.5V237.4H573.3ZM575.3 235.3H577.5V237.8H575.3ZM577.3 231.4H579.5V240.9H577.3ZM579.3 231.4H581.5V239.4H579.3ZM581.3 236.7H583.5V241.5H581.3ZM583.3 230.7H585.5V243.1H583.3ZM585.3 231.6H587.5V243.9H585.3ZM587.3 233.7H589.5V247.4H587.3ZM589.3 236H591.5V245.9H589.3ZM591.3 237.5H593.5V246.1H591.3ZM593.3 235.2H595.5V249.6H593.3ZM595.3 232.3H597.5V246.7H595.3ZM597.3 241.5H599.5V247H597.3ZM599.3 243.4H601.5V251.1H599.3ZM601.3 244.5H603.5V248H601.3ZM603.3 239.8H605.5V249.2H603.3ZM605.3 240.4H607.5V249.3H605.3ZM607.3 246.4H609.5V250.2H607.3ZM609.3 246.7H611.5V251.3H609.3ZM611.3 242H613.5V255.6H611.3ZM613.3 238.7H615.5V254.8H613.3ZM615.3 237.3H617.5V253.2H615.3ZM617.3 228.6H619.5V258.8H617.3ZM619.3 232.4H621.5V256.7H619.3ZM621.3 238.7H623.5V254.6H621.3ZM623.3 239H625.5V259.6H623.3ZM625.3 240.5H627.5V257H625.3ZM627.3 236.1H629.5V262.9H627.3ZM629.3 248.5H631.5V259.5H629.3ZM631.3 247H633.5V258.9H631.3ZM633.3 251.1H635.5V258.9H633.3ZM635.3 251.1H637.5V262.8H635.3ZM637.3 253.8H639.5V265.4H637.3ZM639.3 247.9H641.5V261.6H639.3ZM641.3 256.1H643.5V263.2H641.3ZM643.3 250.5H645.5V268.9H643.3ZM645.3 255.1H647.5V264.4H645.3ZM647.3 246.7H649.5V266.9H647.3ZM649.3 249.7H651.5V267.3H649.3ZM651.3 240.5H653.5V270.2H651.3ZM653.3 244.9H655.5V265.7H653.3ZM655.3 252.6H657.5V267H655.3ZM657.3 253.1H659.5V272.4H657.3ZM659.3 245.2H661.5V269.6H659.3ZM661.3 249.6H663.5V268H661.3ZM663.3 252.1H665.5V268.9H663.3ZM665.3 256.2H667.5V269.6H665.3ZM667.3 256.8H669.5V270.6H667.3ZM669.3 247.7H671.5V270.3H669.3ZM671.3 257.4H673.5V278.3H671.3ZM673.3 258.7H675.5V273.4H673.3ZM675.3 248.9H677.5V274.9H675.3ZM677.3 257.9H679.5V281.8H677.3ZM679.3 258.7H681.5V278.9H679.3ZM681.3 254.5H683.5V275.9H681.3ZM683.3 261.7H685.5V276.5H683.3ZM685.3 259.6H687.5V281.9H685.3ZM687.3 248.4H689.5V282.7H687.3ZM689.3 258.5H691.5V280.1H689.3ZM691.3 262.7H693.5V278H691.3ZM693.3 256.3H695.5V281.1H693.3ZM695.3 266.4H697.5V287.3H695.3ZM697.3 264.6H699.5V286.2H697.3ZM699.3 263.8H701.5V280.9H699.3ZM701.3 268.9H703.5V290.1H701.3ZM703.3 261H705.5V283.6H703.3ZM705.3 254.8H707.5V281.3H705.3ZM707.3 270.7H709.5V283H707.3ZM709.3 267.5H711.5V282H709.3ZM711.3 260.8H713.5V282.3H711.3ZM713.3 270.9H715.5V285H713.3ZM715.3 270.3H717.5V290.9H715.3ZM717.3 263.1H719.5V284.5H717.3ZM719.3 269.4H721.5V284.5H719.3ZM721.3 266.7H723.5V284.3H721.3ZM723.3 260.5H725.5V287H723.3ZM725.3 263.4H727.5V288.9H725.3ZM727.3 266.8H729.5V291.9H727.3ZM729.3 253.2H731.5V286.2H729.3ZM731.3 259H733.5V295.1H731.3ZM733.3 266.4H735.5V290H733.3ZM735.3 267.4H737.5V296.3H735.3ZM737.3 272.4H739.5V288.1H737.3ZM739.3 261.5H741.5V289.4H739.3ZM741.3 276.1H743.5V290.1H741.3ZM743.3 280.4H745.5V288.6H743.3ZM745.3 275.8H747.5V291.1H745.3ZM747.3 274H749.5V295.1H747.3ZM749.3 265.6H751.5V289.4H749.3ZM751.3 266.9H753.5V294.3H751.3ZM753.3 264H755.5V297.3H753.3ZM755.3 265H757.5V294.1H755.3ZM757.3 262.8H759.5V300.8H757.3ZM759.3 260.2H761.5V292.5H759.3ZM761.3 258.3H763.5V301.1H761.3ZM763.3 256.7H765.5V292.7H763.3ZM765.3 266.2H767.5V292.5H765.3ZM767.3 264.8H769.5V294.7H767.3ZM769.3 266.7H771.5V302.7H769.3ZM771.3 269.6H773.5V299.3H771.3ZM773.3 267.6H775.5V294.4H773.3ZM775.3 270.8H777.5V294.3H775.3ZM777.3 273.2H779.5V294.7H777.3ZM779.3 271.8H781.5V300.4H779.3ZM781.3 266.6H783.5V301.6H781.3ZM783.3 276.1H785.5V306.8H783.3ZM785.3 264.8H787.5V308.4H785.3ZM787.3 276.5H789.5V311H787.3ZM789.3 300.7H791.5V324.5H789.3ZM791.3 309H793.5V320.7H791.3ZM793.3 314.6H795.5V318.7H793.3ZM795.3 297.8H797.5V312.9H795.3ZM797.3 292.8H799.5V308.7H797.3ZM799.3 284.7H801.5V312.7H799.3ZM801.3 272.2H803.5V309.3H801.3ZM803.3 278.3H805.5V306.5H803.3ZM805.3 278H807.5V311.8H805.3ZM807.3 268.3H809.5V307.1H807.3ZM809.3 281.4H811.5V308.2H809.3ZM811.3 267.8H813.5V314.2H811.3ZM813.3 284.1H815.5V313.5H813.3ZM815.3 285.3H817.5V308.9H815.3ZM817.3 283H819.5V312.6H817.3ZM819.3 287.9H821.5V309.8H819.3ZM821.3 286.7H823.5V309.7H821.3ZM823.3 279.6H825.5V314.1H823.3ZM825.3 289.1H827.5V316.8H825.3ZM827.3 279.4H829.5V314.9H827.3ZM829.3 291.2H831.5V311.6H829.3ZM831.3 280H833.5V318.2H831.3ZM833.3 284.3H835.5V312.1H833.3ZM835.3 279.6H837.5V320H835.3ZM837.3 284.5H839.5V312.7H837.3ZM839.3 290H841.5V320.9H839.3ZM841.3 292H843.5V316.6H841.3ZM843.3 295.7H845.5V314.2H843.3ZM845.3 283.7H847.5V316.4H845.3ZM847.3 292.1H849.5V319H847.3ZM849.3 299.7H851.5V315.4H849.3ZM851.3 291.8H853.5V316.3H851.3ZM853.3 290.3H855.5V318.1H853.3ZM855.3 296H857.5V318.1H855.3ZM857.3 302.8H859.5V318.9H857.3ZM859.3 303.6H861.5V326.4H859.3ZM861.3 295.1H863.5V320.8H861.3ZM863.3 294.2H865.5V318.3H863.3ZM865.3 305.9H867.5V320.6H865.3ZM867.3 302.8H869.5V320.9H867.3ZM869.3 305.2H871.5V319.9H869.3ZM871.3 305.1H873.5V324.6H871.3ZM873.3 299.7H875.5V321.4H873.3ZM875.3 307.5H877.5V327H875.3ZM877.3 299.1H879.5V324.4H877.3ZM879.3 306.3H881.5V330H879.3ZM881.3 295.4H883.5V323.3H881.3ZM883.3 308.8H885.5V322.2H883.3ZM885.3 311.1H887.5V322.3H885.3ZM887.3 308.7H889.5V328H887.3ZM889.3 311H891.5V323.3H889.3ZM891.3 304.9H893.5V324.6H891.3ZM893.3 314H895.5V329.6H893.3ZM895.3 308.2H897.5V325.3H895.3ZM897.3 304.7H899.5V325.1H897.3ZM899.3 309.7H901.5V326.4H899.3ZM901.3 302.6H903.5V329.3H901.3ZM903.3 316H905.5V329.6H903.3ZM905.3 315.1H907.5V332.4H905.3ZM907.3 308.6H909.5V335.7H907.3ZM909.3 308.4H911.5V328.4H909.3ZM911.3 302.8H913.5V334.3H911.3ZM913.3 307.5H915.5V332.5H913.3ZM915.3 313.8H917.5V338.1H915.3ZM917.3 304.9H919.5V340.2H917.3ZM919.3 313.8H921.5V336.5H919.3ZM921.3 316.3H923.5V331.7H921.3ZM923.3 304H925.5V333.7H923.3ZM925.3 316.8H927.5V332.9H925.3ZM927.3 305.3H929.5V333.8H927.3ZM929.3 312.9H931.5V339.1H929.3ZM931.3 303.2H933.5V344.1H931.3ZM933.3 310.9H935.5V343H933.3ZM935.3 308H937.5V336.6H935.3ZM937.3 312.1H939.5V339.4H937.3ZM939.3 319H941.5V345.8H939.3ZM941.3 309.9H943.5V339.2H941.3ZM943.3 316.8H945.5V340.7H943.3ZM945.3 312.2H947.5V342.8H945.3ZM947.3 317.7H949.5V340.2H947.3ZM949.3 312.2H951.5V340.4H949.3ZM951.3 306.5H953.5V341.4H951.3ZM953.3 318.6H955.5V346.2H953.3ZM955.3 308H957.5V342.1H955.3ZM957.3 321.1H959.5V343.7H957.3ZM959.3 312.5H961.5V343.1H959.3ZM961.3 319.1H963.5V347.4H961.3ZM963.3 322.3H965.5V347.8H963.3ZM965.3 329.7H967.5V345.1H965.3ZM967.3 332.3H969.5V346.4H967.3ZM969.3 327.4H971.5V346.2H969.3ZM971.3 338.3H973.5V349.5H971.3ZM973.3 323.7H975.5V347.4H973.3ZM975.3 337.4H977.5V347.9H975.3ZM977.3 338.1H979.5V356.7H977.3ZM979.3 338.9H981.5V354.6H979.3ZM981.3 327.4H983.5V349.8H981.3ZM983.3 342.4H985.5V350.5H983.3ZM985.3 330.6H987.5V351.2H985.3ZM987.3 329.1H989.5V351.6H987.3ZM989.3 331.3H991.5V357.7H989.3ZM991.3 346.7H993.5V354.3H991.3ZM993.3 342.7H995.5V354H993.3ZM995.3 349.4H997.5V355H995.3ZM997.3 348.3H999.5V357.3H997.3ZM999.3 342.2H1001.5V355.8H999.3ZM1001.3 351.3H1003.5V360.3H1001.3ZM1003.3 350H1005.5V355.7H1003.3ZM1005.3 350.4H1007.5V357.2H1005.3ZM1007.3 342.7H1009.5V364H1007.3ZM1009.3 344.2H1011.5V356H1009.3ZM1011.3 348.9H1013.5V363.8H1011.3ZM1013.3 352.4H1015.5V364.6H1013.3ZM1015.3 348.5H1017.5V360.2H1015.3ZM1017.3 355.2H1019.5V356.2H1017.3ZM1019.3 351H1021.5V356.6H1019.3ZM1021.3 353.3H1023.5V356H1021.3ZM1023.3 344.9H1025.5V355H1023.3ZM1025.3 348.8H1027.5V367.4H1025.3ZM1027.3 321.3H1029.5V422.6H1027.3ZM1029.3 292.4H1031.5V471.3H1029.3ZM1031.3 291.3H1033.5V474.8H1031.3ZM1033.3 311.8H1035.5V471.3H1033.3ZM1035.3 345.1H1037.5V477.6H1035.3ZM1037.3 357.8H1039.5V441.1H1037.3ZM1039.3 378.1H1041.5V402.3H1039.3ZM1041.3 384.5H1043.5V405.2H1041.3ZM1043.3 382H1045.5V401.9H1043.3ZM1045.3 389.5H1047.5V403.8H1045.3ZM1047.3 398.7H1049.5V402.3H1047.3ZM1049.3 395.4H1051.5V401H1049.3ZM1051.3 400.9H1053.5V405.5H1051.3ZM1053.3 401.2H1055.5V402.3H1053.3ZM1055.3 397.4H1057.5V402.6H1055.3ZM1057.3 397.9H1059.5V402.4H1057.3ZM1059.3 401.3H1061.5V405.1H1059.3ZM1061.3 400.7H1063.5V406.5H1061.3ZM1063.3 401.2H1065.5V404.8H1063.3ZM1065.3 398H1067.5V404H1065.3ZM1067.3 392.1H1069.5V404H1067.3ZM1069.3 385.1H1071.5V405.2H1069.3ZM1071.3 385.3H1073.5V413.5H1071.3ZM1073.3 384.8H1075.5V410.4H1073.3ZM1075.3 370.1H1077.5V406.7H1075.3ZM1077.3 383.4H1079.5V414.4H1077.3ZM1079.3 380.5H1081.5V424.6H1079.3ZM1081.3 369.7H1083.5V429.8H1081.3ZM1083.3 377.1H1085.5V440.5H1083.3ZM1085.3 379.9H1087.5V443.8H1085.3ZM1087.3 380.9H1089.5V453.2H1087.3ZM1089.3 377.7H1091.5V463.3H1089.3ZM1091.3 375.2H1093.5V474.6H1091.3ZM1093.3 374.7H1095.5V482H1093.3ZM1095.3 363.8H1097.5V481.2H1095.3ZM1097.3 364.9H1099.5V494.3H1097.3ZM1099.3 361.2H1101.5V496.9H1099.3ZM1101.3 353.7H1103.5V501.3H1101.3ZM1103.3 360.2H1105.5V511H1103.3ZM1105.3 350.2H1107.5V515.9H1105.3ZM1107.3 358.8H1109.5V515.4H1107.3ZM1109.3 354.4H1111.5V519.3H1109.3ZM1111.3 346.3H1113.5V519.9H1111.3ZM1113.3 360.5H1115.5V524.6H1113.3ZM1115.3 352.3H1117.5V536.5H1115.3ZM1117.3 355.5H1119.5V536.6H1117.3ZM1119.3 368.8H1121.5V540.3H1119.3ZM1121.3 361.5H1123.5V549.3H1121.3ZM1123.3 366.8H1125.5V546.9H1123.3ZM1125.3 365.6H1127.5V551H1125.3ZM1127.3 361.5H1129.5V559.3H1127.3ZM1129.3 362.3H1131.5V556.1H1129.3ZM1131.3 364.7H1133.5V559.9H1131.3ZM1133.3 357.1H1135.5V566.6H1133.3ZM1135.3 370.5H1137.5V567.8H1135.3ZM1137.3 373.6H1139.5V576.5H1137.3ZM1139.3 372.5H1141.5V578.1H1139.3ZM1141.3 372.3H1143.5V580.8H1141.3ZM1143.3 375.2H1145.5V584.8H1143.3ZM1145.3 370.9H1147.5V588.9H1145.3ZM1147.3 375.1H1149.5V596.1H1147.3ZM1149.3 375.7H1151.5V599.3H1149.3ZM1151.3 371.3H1153.5V608.9H1151.3ZM1153.3 371.4H1155.5V612.5H1153.3ZM1155.3 376H1157.5V610.6H1155.3ZM1157.3 373.9H1159.5V615.9H1157.3ZM1159.3 375.4H1161.5V616.4H1159.3ZM1161.3 371H1163.5V621.5H1161.3ZM1163.3 370.9H1165.5V628.6H1163.3ZM1165.3 375.4H1167.5V629.7H1165.3ZM1167.3 375.1H1169.5V634.5H1167.3ZM1169.3 374.9H1171.5V639.9H1169.3ZM1171.3 369.2H1173.5V640.7H1171.3ZM1173.3 374.6H1175.5V648.1H1173.3ZM1175.3 374.3H1177.5V654.1H1175.3ZM1177.3 368.8H1179.5V658.1H1177.3ZM1179.3 372.5H1181.5V658.3H1179.3ZM1181.3 373H1183.5V667.5H1181.3ZM1183.3 370.6H1185.5V672.5H1183.3ZM1185.3 384.6H1187.5V670.9H1185.3ZM1187.3 381.6H1189.5V671.6H1187.3ZM1189.3 387.7H1191.5V676.9H1189.3ZM1191.3 394.5H1193.5V681.4H1191.3ZM1193.3 394.9H1195.5V684.7H1193.3ZM1195.3 395.5H1197.5V695.1H1195.3ZM1197.3 396.9H1199.5V699.4H1197.3ZM1199.3 390.8H1201.5V700.6H1199.3ZM1201.3 397H1203.5V700.6H1201.3ZM1203.3 385.1H1205.5V703.7H1203.3ZM1205.3 400H1207.5V711.1H1205.3ZM1207.3 392.5H1209.5V719.7H1207.3ZM1209.3 392.8H1211.5V719.8H1209.3ZM1211.3 404.7H1213.5V727.6H1211.3ZM1213.3 404.7H1215.5V724.1H1213.3ZM1215.3 399.4H1217.5V732.9H1215.3ZM1217.3 412.7H1219.5V739.9H1217.3ZM1219.3 421.2H1221.5V736.2H1219.3ZM1221.3 424.8H1223.5V742.2H1221.3ZM1223.3 428.2H1225.5V746.8H1223.3ZM1225.3 426.9H1227.5V748H1225.3ZM1227.3 423.6H1229.5V752.1H1227.3ZM1229.3 435.3H1231.5V764.2H1229.3ZM1231.3 431.5H1233.5V762H1231.3ZM1233.3 440.6H1235.5V769H1233.3ZM1235.3 441.8H1237.5V768.2H1235.3ZM1237.3 444.3H1239.5V772.1H1237.3ZM1239.3 441.4H1241.5V782.6H1239.3ZM1241.3 433H1243.5V780.5H1241.3ZM1243.3 449.7H1245.5V783.8H1243.3ZM1245.3 442.8H1247.5V790.7H1245.3ZM1247.3 448.6H1249.5V793.6H1247.3ZM1249.3 442.9H1251.5V798.9H1249.3ZM1251.3 453.8H1253.5V802.9H1251.3ZM1253.3 461H1255.5V811.5H1253.3ZM1255.3 459.3H1257.5V818.3H1255.3ZM1257.3 461.7H1259.5V804.9H1257.3ZM1259.3 466.3H1261.5V817.7H1259.3ZM1261.3 456.3H1263.5V817.5H1261.3ZM1263.3 469.4H1265.5V812.8H1263.3ZM1265.3 467.1H1267.5V810.6H1265.3ZM1267.3 475.8H1269.5V809.7H1267.3ZM1269.3 478.4H1271.5V808.6H1269.3ZM1271.3 481.7H1273.5V824.4H1271.3ZM1273.3 482.9H1275.5V854H1273.3ZM1275.3 483.7H1277.5V813.6H1275.3ZM1277.3 488.8H1279.5V815.1H1277.3ZM1279.3 490.2H1281.5V817.6H1279.3ZM1281.3 488.1H1283.5V828.1H1281.3ZM1283.3 498H1285.5V844.8H1283.3ZM1285.3 498.2H1287.5V812.6H1285.3ZM1287.3 509.1H1289.5V859.8H1287.3ZM1289.3 502.8H1291.5V808H1289.3ZM1291.3 520.4H1293.5V823.3H1291.3ZM1293.3 521.9H1295.5V805.1H1293.3ZM1295.3 521.7H1297.5V835.5H1295.3ZM1297.3 529.6H1299.5V801.6H1297.3ZM1299.3 527.3H1301.5V855.4H1299.3ZM1301.3 524.4H1303.5V892.7H1301.3ZM1303.3 577.3H1305.5V789.3H1303.3ZM1305.3 545.8H1307.5V784.3H1305.3ZM1307.3 549.8H1309.5V878.1H1307.3ZM1309.3 639.6H1311.5V834.3H1309.3ZM1311.3 554.5H1313.5V906.2H1311.3ZM1313.3 549.9H1315.5V827.1H1313.3ZM1315.3 562.5H1317.5V759.3H1315.3ZM1317.3 564.2H1319.5V754.3H1317.3ZM1319.3 587H1321.5V832.5H1319.3ZM1321.3 629H1323.5V744.3H1321.3ZM1323.3 574H1325.5V913.6H1323.3ZM1325.3 576.8H1327.5V734.3H1325.3ZM1327.3 636.7H1329.5V892.5H1327.3ZM1329.3 578.3H1331.5V873H1329.3ZM1331.3 614.6H1333.5V719.3H1331.3ZM1333.3 580.7H1335.5V714.3H1333.3ZM1335.3 581.2H1337.5V910.8H1335.3ZM1337.3 578.2H1339.5V704.3H1337.3ZM1339.3 585.6H1341.5V699.8H1339.3ZM1341.3 578.9H1343.5V900.5H1341.3ZM1343.3 667.6H1345.5V935.1H1343.3ZM1345.3 594.6H1347.5V924.2H1345.3ZM1347.3 597.3H1349.5V886.6H1347.3ZM1349.3 588.8H1351.5V941.2H1349.3ZM1351.3 592.6H1353.5V941.5H1351.3ZM1353.3 608.3H1355.5V922.1H1353.3ZM1355.3 614.5H1357.5V886.1H1355.3ZM1357.3 609.7H1359.5V688.3H1357.3ZM1359.3 626.5H1361.5V687H1359.3ZM1361.3 616.2H1363.5V891.3H1361.3ZM1363.3 625H1365.5V914.8H1363.3ZM1365.3 637.1H1367.5V683.2H1365.3ZM1367.3 782.8H1369.5V963H1367.3ZM1369.3 652.6H1371.5V680.7H1369.3ZM1371.3 643.1H1373.5V974.2H1371.3ZM1375.3 661.6H1377.5V940.2H1375.3ZM1377.3 666.9H1379.5V964H1377.3ZM1381.3 676.2H1383.5V983.3H1381.3ZM1383.3 822.5H1385.5V992H1383.3ZM1385.3 679.3H1387.5V688.7H1385.3ZM1387.3 691.7H1389.5V693.2H1387.3ZM1389.3 693.6H1391.5V697.3H1389.3ZM1391.3 695.1H1393.5V699.1H1391.3ZM1395.3 689H1397.5V707.9H1395.3ZM1397.3 714.1H1399.5V971.7H1397.3ZM1399.3 697H1401.5V1006.2H1399.3ZM1401.3 725H1403.5V1002H1401.3ZM1403.3 739.1H1405.5V991.1H1403.3ZM1411.3 764H1413.5V1036.8H1411.3ZM1415.3 731.2H1417.5V1058.3H1415.3ZM1417.3 903.1H1419.5V1009.6H1417.3ZM1419.3 779.9H1421.5V1081.9H1419.3ZM1425.3 803.8H1427.5V1056.6H1425.3ZM1427.3 807.2H1429.5V1062.3H1427.3ZM1431.3 855.3H1433.5V1092.4H1431.3ZM1435.3 820.3H1437.5V1041.7H1435.3ZM1437.3 811.3H1439.5V1096.6H1437.3ZM1441.3 785.5H1443.5V795.4H1441.3ZM1443.3 790.7H1445.5V1105.2H1443.3ZM1445.3 778.1H1447.5V1100.1H1445.3ZM1447.3 825.6H1449.5V1113.5H1447.3ZM1451.3 845.3H1453.5V1103.2H1451.3ZM1455.3 863.9H1457.5V1107.2H1455.3ZM1457.3 879.2H1459.5V1121.2H1457.3ZM1461.3 892H1463.5V1096.1H1461.3ZM1465.3 902.2H1467.5V1078.9H1465.3Z" fill="#ff0000"/>
<path d="M1263.3 812.8H1265.3V818H1263.3ZM1275.3 813.6H1277.3V833.7H1275.3ZM1297.3 801.6H1299.3V849.5H1297.3ZM1303.3 789.3H1305.3V849.2H1303.3ZM1305.3 784.3H1307.3V871.3H1305.3ZM1321.3 557.2H1323.3V629H1321.3ZM1337.3 704.3H1339.3V878.3H1337.3ZM1339.3 699.8H1341.3V904.7H1339.3ZM1357.3 688.3H1359.3V925.4H1357.3ZM1367.3 647.5H1369.3V782.8H1367.3ZM1379.3 733H1381.3V937.9H1379.3ZM1385.3 688.7H1387.3V984.4H1385.3ZM1393.3 704H1395.3V877.3H1393.3ZM1393.3 877.3H1395.3V1014H1393.3ZM1405.3 837.8H1407.3V1023.4H1405.3ZM1407.3 760.9H1409.3V1070.6H1407.3ZM1409.3 730.5H1411.3V856.7H1409.3ZM1417.3 787.2H1419.3V903.1H1417.3ZM1421.3 790.5H1423.3V879.7H1421.3ZM1421.3 879.7H1423.3V1056.9H1421.3ZM1423.3 930.8H1425.3V1078H1423.3ZM1431.3 766.4H1433.3V855.3H1431.3ZM1441.3 795.4H1443.3V1092.2H1441.3ZM1453.3 870.3H1455.3V1127.3H1453.3ZM1459.3 844.4H1461.3V1033.5H1459.3Z" fill="#ff0000" fill-opacity="0.65"/>
<path d="M1303.3 540.8H1305.3V577.3H1303.3ZM1309.3 551.3H1311.3V639.6H1309.3ZM1315.3 759.3H1317.3V891.2H1315.3ZM1317.3 754.3H1319.3V880.5H1317.3ZM1319.3 554H1321.3V587H1319.3ZM1321.3 744.3H1323.3V884.7H1321.3ZM1327.3 577.5H1329.3V636.7H1327.3ZM1331.3 581.1H1333.3V614.6H1331.3ZM1331.3 719.3H1333.3V933.1H1331.3ZM1343.3 590H1345.3V667.6H1343.3ZM1359.3 687H1361.3V952.8H1359.3ZM1373.3 649.9H1375.3V686.6H1373.3ZM1373.3 686.6H1375.3V935.3H1373.3ZM1379.3 671.2H1381.3V733H1379.3ZM1383.3 681.7H1385.3V822.5H1383.3ZM1389.3 697.3H1391.3V976.2H1389.3ZM1391.3 699.1H1393.3V977.8H1391.3ZM1405.3 750.5H1407.3V837.8H1405.3ZM1413.3 779.5H1415.3V1048.4H1413.3ZM1423.3 798.8H1425.3V930.8H1423.3ZM1433.3 798.2H1435.3V1105.3H1433.3ZM1439.3 823H1441.3V1089.6H1439.3ZM1459.3 1033.5H1461.3V1122.7H1459.3ZM1467.3 864.6H1469.3V1062.8H1467.3Z" fill="#ff0000" fill-opacity="0.35"/>
<path d="M303.3 271.7H305.5V279.7H303.3ZM305.3 276H307.5V284.2H305.3ZM307.3 279.1H309.5V287.2H307.3ZM309.3 279.5H311.5V289.3H309.3ZM311.3 284.4H313.5V293.2H311.3ZM313.3 284.4H315.5V292.5H313.3ZM315.3 276.8H317.5V285H315.3ZM317.3 283.7H319.5V291.9H317.3ZM319.3 278.2H321.5V285.7H319.3ZM321.3 277.5H323.5V283.3H321.3ZM323.3 278H325.5V284.4H323.3ZM325.3 276.7H327.5V283H325.3ZM327.3 276.3H329.5V281.8H327.3ZM329.3 274.4H331.5V282.9H329.3ZM331.3 269.1H333.5V278.8H331.3ZM333.3 270.1H335.5V279.8H333.3ZM335.3 264.5H337.5V274.2H335.3ZM337.3 260.9H339.5V270.4H337.3ZM339.3 260.8H341.5V270.4H339.3ZM341.3 257.4H343.5V267.6H341.3ZM343.3 253.7H345.5V260.8H343.3ZM345.3 260.2H347.5V269H345.3ZM347.3 252.4H349.5V260.6H347.3ZM349.3 260.3H351.5V270.4H349.3ZM351.3 261.3H353.5V267.9H351.3ZM353.3 261.2H355.5V269.1H353.3ZM355.3 261H357.5V267H355.3ZM357.3 257.3H359.5V265H357.3ZM359.3 260.4H361.5V267.3H359.3ZM361.3 260.8H363.5V268.9H361.3ZM363.3 264.4H365.5V272.9H363.3ZM365.3 265.8H367.5V272.5H365.3ZM367.3 266.3H369.5V272.6H367.3ZM369.3 264.6H371.5V270.7H369.3ZM371.3 267.2H373.5V273.6H371.3ZM373.3 266.6H375.5V272.5H373.3ZM375.3 264.5H377.5V270.4H375.3ZM377.3 263.5H379.5V269.6H377.3ZM379.3 261.7H381.5V268.3H379.3ZM381.3 261.2H383.5V268.4H381.3ZM383.3 258.6H385.5V265.9H383.3ZM385.3 259.9H387.5V267.8H385.3ZM387.3 254.9H389.5V262.2H387.3ZM389.3 258.3H391.5V265.5H389.3ZM391.3 253.5H393.5V260.4H391.3ZM393.3 252H395.5V259.2H393.3ZM395.3 253.1H397.5V260.1H395.3ZM397.3 254H399.5V261.4H397.3ZM399.3 253.8H401.5V260.3H399.3ZM401.3 251.4H403.5V258.7H401.3ZM403.3 254.8H405.5V261.7H403.3ZM405.3 249.7H407.5V257.2H405.3ZM407.3 248.3H409.5V254.2H407.3ZM409.3 172.3H411.5V355.2H409.3ZM411.3 284.1H413.5V312.2H411.3ZM413.3 288.1H415.5V305.6H413.3ZM415.3 296.1H417.5V308.6H415.3ZM417.3 267.6H419.5V304.9H417.3ZM419.3 250.5H421.5V282.9H419.3ZM421.3 247.3H423.5V259.4H421.3ZM423.3 244.5H425.5V251.9H423.3ZM425.3 245.9H427.5V254.1H425.3ZM427.3 243.7H429.5V250.9H427.3ZM429.3 237.6H431.5V244.5H429.3ZM431.3 244.2H433.5V252H431.3ZM433.3 238.5H435.5V245.7H433.3ZM435.3 237.3H437.5V244.1H435.3ZM437.3 237.2H439.5V244.7H437.3ZM439.3 236.9H441.5V242.4H439.3ZM441.3 236.4H443.5V243.9H441.3ZM443.3 236.6H445.5V242.7H443.3ZM445.3 236.8H447.5V242.7H445.3ZM447.3 232.4H449.5V238.9H447.3ZM449.3 234.6H451.5V241H449.3ZM451.3 239.4H453.5V245.5H451.3ZM453.3 236.4H455.5V242H453.3ZM455.3 234.7H457.5V240.3H455.3ZM457.3 238.7H459.5V245.1H457.3ZM459.3 236H461.5V242.5H459.3ZM461.3 233H463.5V238.9H461.3ZM463.3 234.6H465.5V240.9H463.3ZM465.3 231.6H467.5V237.1H465.3ZM467.3 234.9H469.5V243.3H467.3ZM469.3 230.9H471.5V238.2H469.3ZM471.3 230H473.5V237.2H471.3ZM473.3 229H475.5V235.8H473.3ZM475.3 224.6H477.5V232.1H475.3ZM477.3 225.3H479.5V233.1H477.3ZM479.3 223H481.5V230.4H479.3ZM481.3 219.4H483.5V226.9H481.3ZM483.3 222.8H485.5V230.6H483.3ZM485.3 221.8H487.5V228.5H485.3ZM487.3 219.2H489.5V226.9H487.3ZM489.3 217H491.5V224.7H489.3ZM491.3 219.1H493.5V225.3H491.3ZM493.3 222.5H495.5V229.9H493.3ZM495.3 210H497.5V222.8H495.3ZM497.3 217.1H499.5V223.1H497.3ZM499.3 217.2H501.5V223.5H499.3ZM501.3 214.6H503.5V221.7H501.3ZM503.3 215.5H505.5V222.1H503.3ZM505.3 216.3H507.5V223.3H505.3ZM507.3 216.5H509.5V223.5H507.3ZM509.3 213.7H511.5V219.8H509.3ZM511.3 214.1H513.5V220.1H511.3ZM513.3 214.1H515.5V220.2H513.3ZM515.3 214.5H517.5V221.7H515.3ZM517.3 213H519.5V219.3H517.3ZM519.3 208.6H521.5V214.5H519.3ZM521.3 210.7H523.5V216H521.3ZM523.3 215.3H525.5V221.5H523.3ZM525.3 218.7H527.5V224.4H525.3ZM527.3 213.9H529.5V219.4H527.3ZM529.3 212.6H531.5V218.8H529.3ZM531.3 214.4H533.5V220.1H531.3ZM533.3 211.8H535.5V218.7H533.3ZM535.3 214.4H537.5V221.6H535.3ZM537.3 215.7H539.5V222.5H537.3ZM539.3 221.9H541.5V228.4H539.3ZM541.3 223.8H543.5V229.4H541.3ZM543.3 217.3H545.5V224H543.3ZM545.3 219H547.5V224.9H545.3ZM547.3 217.1H549.5V224.1H547.3Z" fill="#ff0000"/>
<path d="M409.6 174L410.2 353" fill="none" stroke="#ff0000" stroke-width="2.3" stroke-linejoin="round"/>
<path d="M1458.5 1090L1460 1150L1463 1200" fill="none" stroke="#ff0000" stroke-width="3.0" stroke-linejoin="round"/>
<path d="M1468 1080L1473 1140L1480 1200" fill="none" stroke="#ff0000" stroke-width="1.8" stroke-linejoin="round"/>
<path d="M1452 1110L1456 1160L1461 1196" fill="none" stroke="#ff0000" stroke-width="1.8" stroke-linejoin="round"/></g>
<g><path d="M513.3 216.5H515.5V227.6H513.3ZM515.3 219.9H517.5V233.2H515.3ZM517.3 218.6H519.5V239.6H517.3ZM519.3 222.1H521.5V244.2H519.3ZM521.3 222.9H523.5V245.3H521.3ZM523.3 221.7H525.5V245.8H523.3ZM525.3 223.6H527.5V246.5H525.3ZM527.3 225.6H529.5V250.6H527.3ZM529.3 222.4H531.5V249.4H529.3ZM531.3 222.8H533.5V248.4H531.3ZM533.3 224.3H535.5V252.5H533.3ZM535.3 228.9H537.5V249.8H535.3ZM537.3 226.4H539.5V250.5H537.3ZM539.3 231.4H541.5V252.9H539.3ZM541.3 231.9H543.5V254.1H541.3ZM543.3 232.3H545.5V251.7H543.3ZM545.3 230.4H547.5V257.1H545.3ZM547.3 232.6H549.5V252.6H547.3ZM549.3 231.7H551.5V256.8H549.3ZM551.3 233.3H553.5V256.7H551.3ZM553.3 232.8H555.5V253.2H553.3ZM555.3 225.1H557.5V254.1H555.3ZM557.3 225.7H559.5V255.4H557.3ZM559.3 229.3H561.5V254.2H559.3ZM561.3 228.2H563.5V261.8H561.3ZM563.3 236.8H565.5V263.4H563.3ZM565.3 230.4H567.5V257.7H565.3ZM567.3 232.6H569.5V258.4H567.3ZM569.3 235.2H571.5V259.6H569.3ZM571.3 239.5H573.5V266.9H571.3ZM573.3 234.2H575.5V265.1H573.3ZM575.3 234.9H577.5V268.6H575.3ZM577.3 237.2H579.5V264.4H577.3ZM579.3 234.1H581.5V269.6H579.3ZM581.3 238.9H583.5V266.3H581.3ZM583.3 242.2H585.5V267.6H583.3ZM585.3 238H587.5V269.7H585.3ZM587.3 234.7H589.5V275.5H587.3ZM589.3 238.2H591.5V275.4H589.3ZM591.3 243.6H593.5V270.9H591.3ZM593.3 243.2H595.5V272.8H593.3ZM595.3 240.6H597.5V283H595.3ZM597.3 239.7H599.5V282.3H597.3ZM599.3 243.3H601.5V284.9H599.3ZM601.3 243.4H603.5V284.1H601.3ZM603.3 246.7H605.5V279.7H603.3ZM605.3 235.8H607.5V279.6H605.3ZM607.3 239.3H609.5V282.6H607.3ZM609.3 245.1H611.5V284.1H609.3ZM611.3 246.2H613.5V287.3H611.3ZM613.3 241.2H615.5V298.1H613.3ZM615.3 246H617.5V289.8H615.3ZM617.3 250.1H619.5V292.6H617.3ZM619.3 249.6H621.5V290.6H619.3ZM621.3 248.5H623.5V292.2H621.3ZM623.3 253H625.5V295.6H623.3ZM625.3 246H627.5V295.8H625.3ZM627.3 250.4H629.5V296.7H627.3ZM629.3 248.7H631.5V304.2H629.3ZM631.3 255H633.5V300.9H631.3ZM633.3 244.4H635.5V306.8H633.3ZM635.3 254.9H637.5V295.2H635.3ZM637.3 251.8H639.5V298.9H637.3ZM639.3 252.9H641.5V291.2H639.3ZM641.3 250H643.5V305.1H641.3ZM643.3 242.5H645.5V303.1H643.3ZM645.3 253.2H647.5V298.5H645.3ZM647.3 250.5H649.5V299.2H647.3ZM649.3 244.8H651.5V306.8H649.3ZM651.3 250.9H653.5V307.3H651.3ZM653.3 249.9H655.5V315.2H653.3ZM655.3 247.8H657.5V319.9H655.3ZM657.3 251.6H659.5V323H657.3ZM659.3 243.3H661.5V327H659.3ZM661.3 251H663.5V319.6H661.3ZM663.3 250.7H665.5V315.9H663.3ZM665.3 238.6H667.5V317.8H665.3ZM667.3 252.9H669.5V321H667.3ZM669.3 251.4H671.5V316.9H669.3ZM671.3 256.5H673.5V318.7H671.3ZM673.3 252.6H675.5V318.2H673.3ZM675.3 256.8H677.5V324.6H675.3ZM677.3 260.4H679.5V334.4H677.3ZM679.3 256.8H681.5V329.5H679.3ZM681.3 267.8H683.5V331.1H681.3ZM683.3 268.8H685.5V323.2H683.3ZM685.3 269.9H687.5V324H685.3ZM687.3 270.9H689.5V325.1H687.3ZM689.3 271.7H691.5V326.1H689.3ZM691.3 267H693.5V333.5H691.3ZM693.3 274H695.5V328.6H693.3ZM695.3 270.6H697.5V335.8H695.3ZM697.3 275.3H699.5V342.4H697.3ZM699.3 276H701.5V331.6H699.3ZM701.3 269.2H703.5V333H701.3ZM703.3 278.3H705.5V334.3H703.3ZM705.3 275H707.5V337H705.3ZM707.3 280H709.5V348.3H707.3ZM709.3 280H711.5V342.4H709.3ZM711.3 281.6H713.5V357.9H711.3ZM713.3 280.4H715.5V341.2H713.3ZM715.3 278.7H717.5V347.5H715.3ZM717.3 276.5H719.5V344.9H717.3ZM719.3 282.8H721.5V358.6H719.3ZM721.3 284.2H723.5V348.2H721.3ZM723.3 278H725.5V363.9H723.3ZM725.3 287.2H727.5V352H725.3ZM727.3 282.5H729.5V354.5H727.3ZM729.3 283.7H731.5V356.4H729.3ZM731.3 288.7H733.5V358.9H731.3ZM733.3 285.4H735.5V361.8H733.3ZM735.3 283.7H737.5V379.7H735.3ZM737.3 290H739.5V367.5H737.3ZM739.3 291H741.5V372.7H739.3ZM741.3 292.8H743.5V380.5H741.3ZM743.3 291.7H745.5V373.3H743.3ZM745.3 290.3H747.5V378.3H745.3ZM747.3 291H749.5V392.8H747.3ZM749.3 280.1H751.5V378.2H749.3ZM751.3 289.2H753.5V382.2H751.3ZM753.3 289.8H755.5V380.6H753.3ZM755.3 291.1H757.5V381.8H755.3ZM757.3 288.4H759.5V383.3H757.3ZM759.3 286.8H761.5V404.1H759.3ZM761.3 277.7H763.5V390.5H761.3ZM763.3 279.4H765.5V397.5H763.3ZM765.3 292.9H767.5V390.4H765.3ZM767.3 283.2H769.5V399.6H767.3ZM769.3 290.6H771.5V401.2H769.3ZM771.3 286.5H773.5V394.8H771.3ZM773.3 285.6H775.5V400.3H773.3ZM775.3 292.9H777.5V398.9H775.3ZM777.3 293H779.5V413.1H777.3ZM779.3 283.8H781.5V408.1H779.3ZM781.3 290.7H783.5V404.6H781.3ZM783.3 288.2H785.5V402H783.3ZM785.3 290.2H787.5V420.5H785.3ZM787.3 290.9H789.5V407.2H787.3ZM789.3 297.8H791.5V420.8H789.3ZM791.3 367.1H793.5V413.8H791.3ZM793.3 381.9H795.5V406.9H793.3ZM795.3 382H797.5V410.2H795.3ZM797.3 316.4H799.5V409.3H797.3ZM799.3 303.2H801.5V409.8H799.3ZM801.3 310H803.5V408.6H801.3ZM803.3 311.4H805.5V408.4H803.3ZM805.3 300.4H807.5V405.4H805.3ZM807.3 306H809.5V418.3H807.3ZM809.3 292.8H811.5V402.7H809.3ZM811.3 303H813.5V415.2H811.3ZM813.3 303.6H815.5V403.4H813.3ZM815.3 298.3H817.5V412.3H815.3ZM817.3 292H819.5V413.1H817.3ZM819.3 302.4H821.5V424.8H819.3ZM821.3 296.9H823.5V411.2H821.3ZM823.3 300.5H825.5V418.4H823.3ZM825.3 302.3H827.5V418.4H825.3ZM827.3 300.3H829.5V426.2H827.3ZM829.3 294.2H831.5V433.8H829.3ZM831.3 303.5H833.5V438.1H831.3ZM833.3 300H835.5V435.4H833.3ZM835.3 300.4H837.5V442H835.3ZM837.3 310H839.5V454.8H837.3ZM839.3 312.6H841.5V445.2H839.3ZM841.3 301.8H843.5V446.6H841.3ZM843.3 315.5H845.5V450.1H843.3ZM845.3 312.7H847.5V460.6H845.3ZM847.3 317.1H849.5V454.2H847.3ZM849.3 316.6H851.5V458.2H849.3ZM851.3 319.9H853.5V463.2H851.3ZM853.3 309.2H855.5V465.5H853.3ZM855.3 322.1H857.5V473.3H855.3ZM857.3 322.8H859.5V481.6H857.3ZM859.3 321.7H861.5V487.8H859.3ZM861.3 310.5H863.5V485.4H861.3ZM863.3 323H865.5V486.5H863.3ZM865.3 311.9H867.5V489.1H865.3ZM867.3 322.5H869.5V491.4H867.3ZM869.3 320.3H871.5V497.8H869.3ZM871.3 318.9H873.5V506.6H871.3ZM873.3 319.5H875.5V509.6H873.3ZM875.3 322.9H877.5V513.6H875.3ZM877.3 312.9H879.5V518.9H877.3ZM879.3 322.6H881.5V521.5H879.3ZM881.3 322.5H883.5V523.7H881.3ZM883.3 313H885.5V520.9H883.3ZM885.3 325.7H887.5V524.6H885.3ZM887.3 327.6H889.5V530.8H887.3ZM889.3 321.7H891.5V535.2H889.3ZM891.3 328H893.5V550.1H891.3ZM893.3 330.7H895.5V543.9H893.3ZM895.3 331.9H897.5V545.2H895.3ZM897.3 332.9H899.5V547.3H897.3ZM899.3 326.9H901.5V558.7H899.3ZM901.3 333.8H903.5V554.6H901.3ZM903.3 332.6H905.5V557H903.3ZM905.3 322.4H907.5V564.4H905.3ZM907.3 324H909.5V566.5H907.3ZM909.3 322.6H911.5V570.2H909.3ZM911.3 324.6H913.5V565H911.3ZM913.3 336.8H915.5V567.5H913.3ZM915.3 329.8H917.5V575.1H915.3ZM917.3 337.3H919.5V574.1H917.3ZM919.3 330H921.5V580.1H919.3ZM921.3 333.6H923.5V590.5H921.3ZM923.3 335.5H925.5V583.8H923.3ZM925.3 338.9H927.5V582H925.3ZM927.3 333.1H929.5V584.6H927.3ZM929.3 334.6H931.5V589.3H929.3ZM931.3 328.5H933.5V592.8H931.3ZM933.3 340.9H935.5V600.7H933.3ZM935.3 331.7H937.5V599.8H935.3ZM937.3 340H939.5V613.5H937.3ZM939.3 340.4H941.5V599.3H939.3ZM941.3 344H943.5V604.8H941.3ZM943.3 339.4H945.5V604.1H943.3ZM945.3 338.3H947.5V622.8H945.3ZM947.3 346.2H949.5V608.8H947.3ZM949.3 339.3H951.5V623.8H949.3ZM951.3 343.1H953.5V620H951.3ZM953.3 341.9H955.5V632.2H953.3ZM955.3 349.9H957.5V621.7H955.3ZM957.3 339.6H959.5V630.8H957.3ZM959.3 347.8H961.5V623.3H959.3ZM961.3 345.1H963.5V634.8H961.3ZM963.3 346.2H965.5V632.1H963.3ZM965.3 349.6H967.5V636.8H965.3ZM967.3 353.6H969.5V639.8H967.3ZM969.3 353.6H971.5V645.7H969.3ZM971.3 353.5H973.5V637.1H971.3ZM973.3 352.7H975.5V643H973.3ZM975.3 352.5H977.5V647.3H975.3ZM977.3 343.3H979.5V644.2H977.3ZM979.3 352.1H981.5V660.7H979.3ZM981.3 352.8H983.5V650.2H981.3ZM983.3 343.7H985.5V651.2H983.3ZM985.3 349.9H987.5V670.4H985.3ZM987.3 352H989.5V660.1H987.3ZM989.3 342.5H991.5V672.1H989.3ZM991.3 351.9H993.5V674.1H991.3ZM993.3 352.1H995.5V663.9H993.3ZM995.3 350H997.5V682.1H995.3ZM997.3 349.2H999.5V670.7H997.3ZM999.3 348.5H1001.5V671.1H999.3ZM1001.3 346.7H1003.5V672.6H1001.3ZM1003.3 353.6H1005.5V693H1003.3ZM1005.3 350.5H1007.5V678.4H1005.3ZM1007.3 355.9H1009.5V687.8H1007.3ZM1009.3 347.9H1011.5V687.1H1009.3ZM1011.3 352.4H1013.5V691.8H1011.3ZM1013.3 359.6H1015.5V700.7H1013.3ZM1015.3 353.7H1017.5V687.8H1015.3ZM1017.3 354.8H1019.5V690.1H1017.3ZM1019.3 349.7H1021.5V703.3H1019.3ZM1021.3 359.6H1023.5V704H1021.3ZM1023.3 356.3H1025.5V704.2H1023.3ZM1025.3 442.1H1027.5V701.9H1025.3ZM1027.3 480.8H1029.5V713.2H1027.3ZM1029.3 475.2H1031.5V703.3H1029.3ZM1031.3 478.6H1033.5V705.3H1031.3ZM1033.3 470.3H1035.5V715.3H1033.3ZM1035.3 481.5H1037.5V716.3H1035.3ZM1037.3 457.3H1039.5V712.4H1037.3ZM1039.3 372.2H1041.5V728.2H1039.3ZM1041.3 367.5H1043.5V722.9H1041.3ZM1043.3 362.5H1045.5V718.9H1043.3ZM1045.3 363.5H1047.5V722.9H1045.3ZM1047.3 366.8H1049.5V730.3H1047.3ZM1049.3 367.6H1051.5V724.9H1049.3ZM1051.3 362H1053.5V729.2H1051.3ZM1053.3 377.8H1055.5V736.3H1053.3ZM1055.3 381.8H1057.5V735H1055.3ZM1057.3 385H1059.5V733.4H1057.3ZM1059.3 382.4H1061.5V735.9H1059.3ZM1061.3 391.2H1063.5V738H1061.3ZM1063.3 396.5H1065.5V747H1063.3ZM1065.3 400.3H1067.5V755.9H1065.3ZM1067.3 393.8H1069.5V741.9H1067.3ZM1069.3 398.1H1071.5V743.8H1069.3ZM1071.3 406.2H1073.5V756.7H1071.3ZM1073.3 406H1075.5V748.1H1073.3ZM1075.3 401H1077.5V755H1075.3ZM1077.3 404.4H1079.5V766.5H1077.3ZM1079.3 397.4H1081.5V764.1H1079.3ZM1081.3 401.8H1083.5V767.8H1081.3ZM1083.3 400.8H1085.5V767.4H1083.3ZM1085.3 391.9H1087.5V763.8H1085.3ZM1087.3 394H1089.5V763.3H1087.3ZM1089.3 397.4H1091.5V776.9H1089.3ZM1091.3 396.2H1093.5V775.9H1091.3ZM1093.3 390.7H1095.5V767.5H1093.3ZM1095.3 394.6H1097.5V783.2H1095.3ZM1097.3 393.1H1099.5V771.1H1097.3ZM1099.3 391.5H1101.5V781.5H1099.3ZM1101.3 384.5H1103.5V772.4H1101.3ZM1103.3 378.7H1105.5V775.7H1103.3ZM1105.3 391.2H1107.5V792H1105.3ZM1107.3 377.1H1109.5V780.8H1107.3ZM1109.3 383.7H1111.5V787.7H1109.3ZM1111.3 388.8H1113.5V795.8H1111.3ZM1113.3 377.7H1115.5V785.2H1113.3ZM1115.3 385.4H1117.5V787.4H1115.3ZM1117.3 400.2H1119.5V802.7H1117.3ZM1119.3 405.3H1121.5V796.1H1119.3ZM1121.3 417H1123.5V793.6H1121.3ZM1123.3 406.8H1125.5V802.3H1123.3ZM1125.3 417H1127.5V799.1H1125.3ZM1127.3 416.2H1129.5V798.8H1127.3ZM1129.3 407.5H1131.5V819.6H1129.3ZM1131.3 408.7H1133.5V807.9H1131.3ZM1133.3 417H1135.5V804.5H1133.3ZM1135.3 412.5H1137.5V815H1135.3ZM1137.3 412.7H1139.5V816.2H1137.3ZM1139.3 416H1141.5V821.3H1139.3ZM1141.3 407.1H1143.5V812.3H1141.3ZM1143.3 413.1H1145.5V820H1143.3ZM1145.3 422.7H1147.5V816.8H1145.3ZM1147.3 426.7H1149.5V818.3H1147.3ZM1149.3 416.9H1151.5V822.6H1149.3ZM1151.3 415.4H1153.5V824.4H1151.3ZM1153.3 428.7H1155.5V827.8H1153.3ZM1155.3 425.2H1157.5V838.5H1155.3ZM1157.3 422.8H1159.5V833.1H1157.3ZM1159.3 423.8H1161.5V833.9H1159.3ZM1161.3 418.6H1163.5V842.8H1161.3ZM1163.3 427.2H1165.5V838.8H1163.3ZM1165.3 425.7H1167.5V843.7H1165.3ZM1167.3 422.8H1169.5V857.8H1167.3ZM1169.3 427.7H1171.5V848.1H1169.3ZM1171.3 427.8H1173.5V854.4H1171.3ZM1173.3 425.6H1175.5V844.4H1173.3ZM1175.3 418.5H1177.5V846.7H1175.3ZM1177.3 432.3H1179.5V851.6H1177.3ZM1179.3 430.8H1181.5V850.9H1179.3ZM1181.3 438.3H1183.5V863.9H1181.3ZM1183.3 433.1H1185.5V868.4H1183.3ZM1185.3 446.9H1187.5V861.9H1185.3ZM1187.3 451.9H1189.5V858.3H1187.3ZM1189.3 455H1191.5V870.4H1189.3ZM1191.3 461.6H1193.5V864.3H1191.3ZM1193.3 466.9H1195.5V874.3H1193.3ZM1195.3 461.7H1197.5V882.2H1195.3ZM1197.3 467.1H1199.5V873.9H1197.3ZM1199.3 472.9H1201.5V878.8H1199.3ZM1201.3 469.8H1203.5V889.6H1201.3ZM1203.3 481.1H1205.5V873.5H1203.3ZM1205.3 470.9H1207.5V874.5H1205.3ZM1207.3 482.3H1209.5V895.6H1207.3ZM1209.3 476.5H1211.5V896H1209.3ZM1211.3 471.4H1213.5V878.6H1211.3ZM1213.3 475.1H1215.5V892.9H1213.3ZM1215.3 481.9H1217.5V881.7H1215.3ZM1217.3 480.7H1219.5V891.9H1217.3ZM1219.3 484.3H1221.5V914.5H1219.3ZM1221.3 485.8H1223.5V896.8H1221.3ZM1223.3 491H1225.5V891.7H1223.3ZM1225.3 493.3H1227.5V899.5H1225.3ZM1227.3 497H1229.5V870.2H1227.3ZM1229.3 504.6H1231.5V911.1H1229.3ZM1231.3 494.9H1233.5V867.4H1231.3ZM1233.3 496.7H1235.5V895.9H1233.3ZM1235.3 504.9H1237.5V910.5H1235.3ZM1237.3 497.3H1239.5V863.2H1237.3ZM1239.3 494.2H1241.5V900.1H1239.3ZM1241.3 494.9H1243.5V909.8H1241.3ZM1243.3 497.8H1245.5V914.9H1243.3ZM1245.3 514.7H1247.5V936.3H1245.3ZM1247.3 505.3H1249.5V916.8H1247.3ZM1249.3 515.7H1251.5V913.4H1249.3ZM1251.3 521.6H1253.5V952.3H1251.3ZM1253.3 522.2H1255.5V915.3H1253.3ZM1255.3 679.2H1257.5V957.5H1255.3ZM1257.3 535.4H1259.5V932.5H1257.3ZM1259.3 530.6H1261.5V837.5H1259.3ZM1261.3 531.9H1263.5V944.5H1261.3ZM1263.3 543.6H1265.5V922.9H1263.3ZM1265.3 576.2H1267.5V954H1265.3ZM1267.3 555.9H1269.5V915.2H1267.3ZM1269.3 559.4H1271.5V974.8H1269.3ZM1271.3 555.7H1273.5V814.3H1271.3ZM1273.3 734.2H1275.5V963.5H1273.3ZM1275.3 712.5H1277.5V963H1275.3ZM1277.3 566.8H1279.5V976.7H1277.3ZM1279.3 568.2H1281.5V929.8H1279.3ZM1281.3 758.9H1283.5V917.2H1281.3ZM1283.3 574.7H1285.5V968H1283.3ZM1285.3 575.1H1287.5V783.7H1285.3ZM1287.3 576.5H1289.5V779.1H1287.3ZM1289.3 582.9H1291.5V932.7H1289.3ZM1291.3 585.8H1293.5V769.4H1291.3ZM1293.3 797.9H1295.5V992.4H1293.3ZM1295.3 596H1297.5V940.5H1295.3ZM1297.3 603.1H1299.5V754.4H1297.3ZM1299.3 599.4H1301.5V995.1H1299.3ZM1301.3 610.3H1303.5V990.2H1301.3ZM1303.3 612.2H1305.5V1003.6H1303.3ZM1305.3 735.5H1307.5V742.1H1305.3ZM1307.3 629.2H1309.5V1008.4H1307.3ZM1309.3 650.6H1311.5V737.1H1309.3ZM1311.3 654.2H1313.5V986.5H1311.3ZM1315.3 896.4H1317.5V966H1315.3ZM1317.3 670.4H1319.5V727.1H1317.3ZM1319.3 749.9H1321.5V991.7H1319.3ZM1321.3 689.2H1323.5V1010.8H1321.3ZM1323.3 695.7H1325.5V719.6H1323.3ZM1325.3 689.6H1327.5V717.1H1325.3ZM1327.3 708.4H1329.5V714.6H1327.3ZM1329.3 824.3H1331.5V951.1H1329.3ZM1331.3 778.3H1333.5V1013.9H1331.3ZM1333.3 704.8H1335.5V1025.3H1333.3ZM1335.3 753.6H1337.5V985.6H1335.3ZM1337.3 892.5H1339.5V996.3H1337.3ZM1339.3 857.9H1341.5V1014.9H1339.3ZM1343.3 793H1345.5V1059.1H1343.3ZM1345.3 769.2H1347.5V1006.4H1345.3ZM1347.3 746.6H1349.5V1058.8H1347.3ZM1349.3 759.1H1351.5V1002.9H1349.3ZM1351.3 769.2H1353.5V1064.4H1351.3ZM1353.3 794.2H1355.5V1068.8H1353.3ZM1355.3 987.3H1357.5V1088.2H1355.3ZM1357.3 764H1359.5V1094.8H1357.3ZM1363.3 747.5H1365.5V759.7H1363.3ZM1365.3 750.6H1367.5V763.6H1365.3ZM1369.3 806.5H1371.5V1115.2H1369.3ZM1371.3 769.8H1373.5V1123.3H1371.3ZM1373.3 747.7H1375.5V778.2H1373.3ZM1375.3 754.4H1377.5V1109.1H1375.3ZM1377.3 867.3H1379.5V1121.9H1377.3ZM1379.3 792.7H1381.5V1102.8H1379.3ZM1387.3 869.4H1389.5V1113.4H1387.3ZM1391.3 884.2H1393.5V1060.9H1391.3Z" fill="#0033ff"/>
<path d="M1227.3 870.2H1229.3V918.2H1227.3ZM1237.3 863.2H1239.3V935.7H1237.3ZM1259.3 837.5H1261.3V924.6H1259.3ZM1271.3 814.3H1273.3V926.8H1271.3ZM1281.3 569.6H1283.3V758.9H1281.3ZM1285.3 783.7H1287.3V976.9H1285.3ZM1287.3 779.1H1289.3V929.4H1287.3ZM1309.3 737.1H1311.3V987.7H1309.3ZM1317.3 727.1H1319.3V1019.9H1317.3ZM1327.3 714.6H1329.3V983.4H1327.3ZM1329.3 717.3H1331.3V824.3H1329.3ZM1337.3 805.1H1339.3V892.5H1337.3ZM1339.3 771.1H1341.3V857.9H1339.3ZM1343.3 764.4H1345.3V793H1343.3ZM1355.3 747.2H1357.3V987.3H1355.3ZM1361.3 758.4H1363.3V987.1H1361.3ZM1365.3 763.6H1367.3V1105.8H1365.3ZM1367.3 803.1H1369.3V1106.1H1367.3ZM1373.3 778.2H1375.3V1089.7H1373.3ZM1385.3 1051.2H1387.3V1088.2H1385.3ZM1389.3 769.6H1391.3V893.8H1389.3Z" fill="#0033ff" fill-opacity="0.65"/>
<path d="M1255.3 527.8H1257.3V679.2H1255.3ZM1265.3 543.3H1267.3V576.2H1265.3ZM1273.3 554.6H1275.3V734.2H1273.3ZM1275.3 565H1277.3V712.5H1275.3ZM1293.3 599.2H1295.3V797.9H1293.3ZM1297.3 754.4H1299.3V950.1H1297.3ZM1305.3 615.2H1307.3V735.5H1305.3ZM1313.3 666.7H1315.3V839.9H1313.3ZM1315.3 666.4H1317.3V896.4H1315.3ZM1319.3 679.1H1321.3V749.9H1319.3ZM1323.3 719.6H1325.3V1025.3H1323.3ZM1325.3 717.1H1327.3V1007.4H1325.3ZM1331.3 702.6H1333.3V778.3H1331.3ZM1341.3 776H1343.3V1002.2H1341.3ZM1359.3 732.1H1361.3V829.1H1359.3ZM1359.3 829.1H1361.3V1089.4H1359.3ZM1385.3 860H1387.3V1051.2H1385.3Z" fill="#0033ff" fill-opacity="0.35"/>
<path d="M303.3 252.2H305.5V260.3H303.3ZM305.3 255.6H307.5V264.2H305.3ZM307.3 249.6H309.5V256.9H307.3ZM309.3 249.3H311.5V258.5H309.3ZM311.3 251.3H313.5V261.1H311.3ZM313.3 254.9H315.5V264.8H313.3ZM315.3 258.3H317.5V266.2H315.3ZM317.3 254.2H319.5V263.6H317.3ZM319.3 253.4H321.5V263.8H319.3ZM321.3 249.5H323.5V257H321.3ZM323.3 249.6H325.5V256.4H323.3ZM325.3 249.2H327.5V256.4H325.3ZM327.3 253.5H329.5V261.6H327.3ZM329.3 255.1H331.5V262.2H329.3ZM331.3 249H333.5V258.2H331.3ZM333.3 247.7H335.5V256.1H333.3ZM335.3 246.7H337.5V255.1H335.3ZM337.3 244.2H339.5V252.9H337.3ZM339.3 242.9H341.5V251.4H339.3ZM341.3 244H343.5V250.7H341.3ZM343.3 242.1H345.5V248H343.3ZM345.3 242.9H347.5V249.9H345.3ZM347.3 239.2H349.5V246H347.3ZM349.3 244H351.5V250.6H349.3ZM351.3 242H353.5V250H351.3ZM353.3 241.9H355.5V250.6H353.3ZM355.3 246.2H357.5V252.4H355.3ZM357.3 249H359.5V254H357.3ZM359.3 243.8H361.5V249.9H359.3ZM361.3 249.6H363.5V255.3H361.3ZM363.3 250.5H365.5V259.1H363.3ZM365.3 242H367.5V253.1H365.3ZM367.3 240.5H369.5V250.9H367.3ZM369.3 231.4H371.5V242.3H369.3ZM371.3 231.4H373.5V242.6H371.3ZM373.3 226.6H375.5V235.8H373.3ZM375.3 226.4H377.5V232.5H375.3ZM377.3 223.4H379.5V230.4H377.3ZM379.3 224.1H381.5V230.7H379.3ZM381.3 223H383.5V230.6H381.3ZM383.3 221.9H385.5V228.9H383.3ZM385.3 221.6H387.5V228.2H385.3ZM387.3 218.7H389.5V225.7H387.3ZM389.3 216.4H391.5V224.8H389.3ZM391.3 217.5H393.5V225.1H391.3ZM393.3 215.5H395.5V223.7H393.3ZM395.3 213.5H397.5V220.2H395.3ZM397.3 214.1H399.5V221.1H397.3ZM399.3 212.9H401.5V219.6H399.3ZM401.3 217.7H403.5V225.3H401.3ZM403.3 218.1H405.5V224H403.3ZM405.3 219.4H407.5V227.3H405.3ZM407.3 210.9H409.5V219.7H407.3ZM409.3 214H411.5V220H409.3ZM411.3 214.4H413.5V221.9H411.3ZM413.3 215.8H415.5V223.3H413.3ZM415.3 217.6H417.5V224.3H415.3ZM417.3 218.3H419.5V229.6H417.3ZM419.3 221.2H421.5V239.9H419.3ZM421.3 231H423.5V272.5H421.3ZM423.3 263.2H425.5V286.6H423.3ZM425.3 255.4H427.5V280.1H425.3ZM427.3 239.7H429.5V259.8H427.3ZM429.3 231.2H431.5V245.3H429.3ZM431.3 226.9H433.5V235.5H431.3ZM433.3 225.8H435.5V235.5H433.3ZM435.3 224.6H437.5V234.1H435.3ZM437.3 223.1H439.5V230.7H437.3ZM439.3 223.4H441.5V231.7H439.3ZM441.3 220.4H443.5V228.7H441.3ZM443.3 221.5H445.5V229.3H443.3ZM445.3 215H447.5V221.7H445.3ZM447.3 219.4H449.5V224.9H447.3ZM449.3 216.2H451.5V222.3H449.3ZM451.3 218.3H453.5V224.3H451.3ZM453.3 218.6H455.5V225.1H453.3ZM455.3 219.9H457.5V226.1H455.3ZM457.3 220.5H459.5V226.5H457.3ZM459.3 218.9H461.5V226.1H459.3ZM461.3 219.9H463.5V228H461.3ZM463.3 222.7H465.5V230.4H463.3ZM465.3 227.7H467.5V235.4H465.3ZM467.3 221.9H469.5V232H467.3ZM469.3 219.8H471.5V229H469.3ZM471.3 215.6H473.5V224.4H471.3ZM473.3 213H475.5V222.3H473.3ZM475.3 220.6H477.5V227H475.3ZM477.3 215.4H479.5V222.9H477.3ZM479.3 213.1H481.5V220.4H479.3ZM481.3 215H483.5V222.5H481.3ZM483.3 212.5H485.5V220.6H483.3ZM485.3 219.4H487.5V229.2H485.3ZM487.3 221.1H489.5V232H487.3ZM489.3 225.4H491.5V234.7H489.3ZM491.3 228.9H493.5V239.4H491.3ZM493.3 231.5H495.5V239.2H493.3ZM495.3 233.7H497.5V243.4H495.3ZM497.3 223.3H499.5V234H497.3ZM499.3 217.4H501.5V227.4H499.3ZM501.3 216.8H503.5V228.5H501.3ZM503.3 214.5H505.5V224.8H503.3ZM505.3 208.1H507.5V220.7H505.3ZM507.3 206.4H509.5V214.3H507.3ZM509.3 206.6H511.5V217H509.3ZM511.3 210.6H513.5V218.3H511.3ZM513.3 211.1H515.5V220.3H513.3ZM515.3 215.6H517.5V222.6H515.3Z" fill="#0033ff"/>
<path d="M1394 1090L1396 1160L1400 1190L1404 1210L1412 1217L1418 1225" fill="none" stroke="#0033ff" stroke-width="1.8" stroke-linejoin="round"/></g>
<g><path d="M591.3 351.5H593.5V368.7H591.3ZM593.3 352.3H595.5V384.7H593.3ZM595.3 358.3H597.5V400H595.3ZM597.3 362.4H599.5V401.2H597.3ZM599.3 366.1H601.5V403.8H599.3ZM601.3 364.1H603.5V406.1H601.3ZM603.3 362.8H605.5V402.8H603.3ZM605.3 356.2H607.5V402.1H605.3ZM607.3 354.8H609.5V404.1H607.3ZM609.3 359.3H611.5V402.4H609.3ZM611.3 357.2H613.5V402.9H611.3ZM613.3 361.5H615.5V400.4H613.3ZM615.3 361.5H617.5V401.4H615.3ZM617.3 366.2H619.5V400H617.3ZM619.3 364.7H621.5V400.1H619.3ZM621.3 363.6H623.5V403.5H621.3ZM623.3 366.4H625.5V410.9H623.3ZM625.3 372.4H627.5V411.6H625.3ZM627.3 374.1H629.5V417.2H627.3ZM629.3 374.7H631.5V421.1H629.3ZM631.3 380.9H633.5V423.9H631.3ZM633.3 381.8H635.5V417.2H633.3ZM635.3 381.2H637.5V413.6H635.3ZM637.3 379.5H639.5V414H637.3ZM639.3 378.7H641.5V416H639.3ZM641.3 365.8H643.5V417.7H641.3ZM643.3 376.2H645.5V409.5H643.3ZM645.3 373.8H647.5V408.7H645.3ZM647.3 380.6H649.5V413.7H647.3ZM649.3 381H651.5V426.2H649.3ZM651.3 383H653.5V428.6H651.3ZM653.3 389.2H655.5V429.7H653.3ZM655.3 391.3H657.5V433.7H655.3ZM657.3 388.3H659.5V439.5H657.3ZM659.3 384.9H661.5V440.9H659.3ZM661.3 382.4H663.5V446H661.3ZM663.3 385.3H665.5V441.8H663.3ZM665.3 388H667.5V451H665.3ZM667.3 388.3H669.5V444.9H667.3ZM669.3 384.6H671.5V442.7H669.3ZM671.3 386.1H673.5V449.4H671.3ZM673.3 378.8H675.5V460.3H673.3ZM675.3 389H677.5V443.9H675.3ZM677.3 390.1H679.5V455.2H677.3ZM679.3 395.1H681.5V450.2H679.3ZM681.3 393H683.5V448.2H681.3ZM683.3 396.1H685.5V465.4H683.3ZM685.3 396.2H687.5V461.9H685.3ZM687.3 391.6H689.5V450.7H687.3ZM689.3 394.9H691.5V458H689.3ZM691.3 390.4H693.5V446.4H691.3ZM693.3 393.1H695.5V446.8H693.3ZM695.3 390.4H697.5V458H695.3ZM697.3 380.1H699.5V444.3H697.3ZM699.3 391.5H701.5V459.7H699.3ZM701.3 389.1H703.5V444.6H701.3ZM703.3 390.2H705.5V443.2H703.3ZM705.3 386.7H707.5V454.9H705.3ZM707.3 381.6H709.5V452.5H707.3ZM709.3 386.2H711.5V454.2H709.3ZM711.3 381.2H713.5V456.8H711.3ZM713.3 392.7H715.5V450.6H713.3ZM715.3 395.5H717.5V465.4H715.3ZM717.3 395.6H719.5V455.9H717.3ZM719.3 389.3H721.5V460.9H719.3ZM721.3 387.7H723.5V462.3H721.3ZM723.3 400.2H725.5V463.6H723.3ZM725.3 395.2H727.5V465.5H725.3ZM727.3 389.9H729.5V471.6H727.3ZM729.3 400.1H731.5V479.6H729.3ZM731.3 399.7H733.5V482.4H731.3ZM733.3 397.9H735.5V483.5H733.3ZM735.3 398.3H737.5V467.5H735.3ZM737.3 398.3H739.5V465.5H737.3ZM739.3 401.5H741.5V463.6H739.3ZM741.3 393.2H743.5V485.3H741.3ZM743.3 406.6H745.5V480H743.3ZM745.3 413.6H747.5V485H745.3ZM747.3 418.1H749.5V504.2H747.3ZM749.3 418.7H751.5V495.7H749.3ZM751.3 408.5H753.5V506.4H751.3ZM753.3 416.4H755.5V489.9H753.3ZM755.3 418.7H757.5V507.2H755.3ZM757.3 418H759.5V493.1H757.3ZM759.3 413.4H761.5V498.5H759.3ZM761.3 414.1H763.5V508.5H761.3ZM763.3 405.8H765.5V501.5H763.3ZM765.3 415.9H767.5V518.6H765.3ZM767.3 409.3H769.5V522.3H767.3ZM769.3 417.4H771.5V505.3H769.3ZM771.3 417.4H773.5V509.5H771.3ZM773.3 417.5H775.5V511.6H773.3ZM775.3 417.5H777.5V499.5H775.3ZM777.3 410.9H779.5V498.5H777.3ZM779.3 414.4H781.5V501.4H779.3ZM781.3 407.6H783.5V510.2H781.3ZM783.3 413.1H785.5V500.5H783.3ZM785.3 413.9H787.5V517.8H785.3ZM787.3 420.9H789.5V508.1H787.3ZM789.3 424.2H791.5V508.1H789.3ZM791.3 418.2H793.5V524.2H791.3ZM793.3 425.8H795.5V516H793.3ZM795.3 421.5H797.5V522.4H795.3ZM797.3 423.2H799.5V520.5H797.3ZM799.3 418.9H801.5V528.2H799.3ZM801.3 428.9H803.5V533.1H801.3ZM803.3 433H805.5V549.9H803.3ZM805.3 422.2H807.5V546.1H805.3ZM807.3 428.5H809.5V535.5H807.3ZM809.3 423.3H811.5V541.7H809.3ZM811.3 427.2H813.5V543.2H811.3ZM813.3 424.3H815.5V576.6H813.3ZM815.3 557.9H817.5V590.1H815.3ZM817.3 571.6H819.5V600.1H817.3ZM819.3 598.5H821.5V599.6H819.3ZM821.3 602.6H823.5V611.1H821.3ZM823.3 565H825.5V586.1H823.3ZM825.3 442.9H827.5V573.5H825.3ZM827.3 435.5H829.5V549.8H827.3ZM829.3 428.4H831.5V552H829.3ZM831.3 439.8H833.5V562H831.3ZM833.3 431.1H835.5V564.7H833.3ZM835.3 435.9H837.5V550.2H835.3ZM837.3 432.6H839.5V553.2H837.3ZM839.3 432.6H841.5V554.3H839.3ZM841.3 434.7H843.5V558.7H841.3ZM843.3 438.6H845.5V579.2H843.3ZM845.3 440.4H847.5V570H845.3ZM847.3 430.9H849.5V572H847.3ZM849.3 439.6H851.5V576.2H849.3ZM851.3 444.9H853.5V573.8H851.3ZM853.3 430.1H855.5V575H853.3ZM855.3 437.4H857.5V574.1H855.3ZM857.3 429.5H859.5V570.5H857.3ZM859.3 420.3H861.5V564.1H859.3ZM861.3 431.3H863.5V585.8H861.3ZM863.3 430.7H865.5V569.8H863.3ZM865.3 420.6H867.5V557.2H865.3ZM867.3 423.9H869.5V562.6H867.3ZM869.3 429H871.5V562.9H869.3ZM871.3 423.4H873.5V563H871.3ZM873.3 428.4H875.5V567.2H873.3ZM875.3 419.9H877.5V564.7H875.3ZM877.3 424.5H879.5V567H877.3ZM879.3 432.2H881.5V573.1H879.3ZM881.3 441.6H883.5V581.5H881.3ZM883.3 444.1H885.5V574.5H883.3ZM885.3 431.6H887.5V584.7H885.3ZM887.3 434.6H889.5V597.6H887.3ZM889.3 434H891.5V602.7H889.3ZM891.3 429.5H893.5V592.1H891.3ZM893.3 434.7H895.5V589.9H893.3ZM895.3 432.6H897.5V594.9H895.3ZM897.3 429.6H899.5V580.6H897.3ZM899.3 427.6H901.5V602.1H899.3ZM901.3 420.6H903.5V584.5H901.3ZM903.3 428.3H905.5V585.6H903.3ZM905.3 423.9H907.5V598.4H905.3ZM907.3 423.8H909.5V601.7H907.3ZM909.3 433.3H911.5V613.6H909.3ZM911.3 432H913.5V601.5H911.3ZM913.3 428H915.5V604.1H913.3ZM915.3 431.1H917.5V605.6H915.3ZM917.3 441.6H919.5V609.2H917.3ZM919.3 439H921.5V613.1H919.3ZM921.3 444.4H923.5V624.3H921.3ZM923.3 432H925.5V640.8H923.3ZM925.3 447H927.5V637.3H925.3ZM927.3 445.6H929.5V637.7H927.3ZM929.3 443.2H931.5V633.1H929.3ZM931.3 439.2H933.5V631.4H931.3ZM933.3 451.2H935.5V633.7H933.3ZM935.3 442.3H937.5V626.6H935.3ZM937.3 454H939.5V628.9H937.3ZM939.3 455.7H941.5V631.4H939.3ZM941.3 449.7H943.5V655.2H941.3ZM943.3 460.1H945.5V646.2H943.3ZM945.3 461.3H947.5V649.7H945.3ZM947.3 464.5H949.5V662.5H947.3ZM949.3 468.9H951.5V667.3H949.3ZM951.3 465.8H953.5V672.6H951.3ZM953.3 464.5H955.5V662.4H953.3ZM955.3 468.2H957.5V681.1H955.3ZM957.3 468.6H959.5V691.5H957.3ZM959.3 456.8H961.5V672.5H959.3ZM961.3 457.5H963.5V676.1H961.3ZM963.3 460.2H965.5V675.3H963.3ZM965.3 448.7H967.5V690.5H965.3ZM967.3 457.7H969.5V682.9H967.3ZM969.3 447.4H971.5V666H969.3ZM971.3 460.9H973.5V674.1H971.3ZM973.3 457.5H975.5V673.4H973.3ZM975.3 452H977.5V681.2H975.3ZM977.3 465.8H979.5V683.4H977.3ZM979.3 454.1H981.5V682.4H979.3ZM981.3 459.2H983.5V686.5H981.3ZM983.3 467.1H985.5V707H983.3ZM985.3 458.7H987.5V693.2H985.3ZM987.3 460H989.5V709.4H987.3ZM989.3 462.6H991.5V689.2H989.3ZM991.3 472.1H993.5V696.7H991.3ZM993.3 460.9H995.5V722.7H993.3ZM995.3 460.2H997.5V698H995.3ZM997.3 468.3H999.5V704.3H997.3ZM999.3 475.2H1001.5V707.6H999.3ZM1001.3 473.7H1003.5V707.3H1001.3ZM1003.3 464.4H1005.5V708.4H1003.3ZM1005.3 465.5H1007.5V704.7H1005.3ZM1007.3 471.2H1009.5V730.8H1007.3ZM1009.3 469.4H1011.5V737.6H1009.3ZM1011.3 469.8H1013.5V708.2H1011.3ZM1013.3 470.1H1015.5V725.9H1013.3ZM1015.3 468.4H1017.5V737.1H1015.3ZM1017.3 466.2H1019.5V716.1H1017.3ZM1019.3 469.4H1021.5V721.2H1019.3ZM1021.3 470.4H1023.5V719.2H1021.3ZM1023.3 485H1025.5V735H1023.3ZM1025.3 478.6H1027.5V723H1025.3ZM1027.3 476.7H1029.5V751.3H1027.3ZM1029.3 487.8H1031.5V725.7H1029.3ZM1031.3 476.2H1033.5V728.7H1031.3ZM1033.3 486.4H1035.5V727.2H1033.3ZM1035.3 476.2H1037.5V747.8H1035.3ZM1037.3 482.8H1039.5V734.4H1037.3ZM1039.3 491.4H1041.5V765.9H1039.3ZM1041.3 492.1H1043.5V749.1H1041.3ZM1043.3 492.6H1045.5V753H1043.3ZM1045.3 491.6H1047.5V763.1H1045.3ZM1047.3 519H1049.5V791.4H1047.3ZM1049.3 615.3H1051.5V810.8H1049.3ZM1051.3 615.3H1053.5V831.6H1051.3ZM1053.3 622.1H1055.5V860.8H1053.3ZM1055.3 621.3H1057.5V829.1H1055.3ZM1057.3 609.4H1059.5V835.7H1057.3ZM1059.3 616.8H1061.5V837.5H1059.3ZM1061.3 511.3H1063.5V857.9H1061.3ZM1063.3 511.5H1065.5V821.3H1063.3ZM1065.3 512.5H1067.5V788.4H1065.3ZM1067.3 512H1069.5V765.5H1067.3ZM1069.3 513.6H1071.5V778.7H1069.3ZM1071.3 504.7H1073.5V794.4H1071.3ZM1073.3 519.2H1075.5V803.6H1073.3ZM1075.3 522.2H1077.5V809.6H1075.3ZM1077.3 512.5H1079.5V794H1077.3ZM1079.3 523.1H1081.5V781.1H1079.3ZM1081.3 531H1083.5V784.1H1081.3ZM1083.3 532.4H1085.5V783.7H1083.3ZM1085.3 535.7H1087.5V782.3H1085.3ZM1087.3 538.9H1089.5V815.4H1087.3ZM1089.3 537.9H1091.5V809.3H1089.3ZM1091.3 541.5H1093.5V792.4H1091.3ZM1093.3 545.5H1095.5V796.7H1093.3ZM1095.3 535.6H1097.5V808.4H1095.3ZM1097.3 537.9H1099.5V820.9H1097.3ZM1099.3 553.4H1101.5V807.6H1099.3ZM1101.3 542.5H1103.5V808.4H1101.3ZM1103.3 550H1105.5V804.6H1103.3ZM1105.3 550.6H1107.5V823.7H1105.3ZM1107.3 549.5H1109.5V806.7H1107.3ZM1109.3 549.6H1111.5V837.9H1109.3ZM1111.3 547.3H1113.5V805.6H1111.3ZM1113.3 547.4H1115.5V805.1H1113.3ZM1115.3 536.5H1117.5V841.1H1115.3ZM1117.3 537.9H1119.5V810.7H1117.3ZM1119.3 542.2H1121.5V826.7H1119.3ZM1121.3 547.4H1123.5V820.5H1121.3ZM1123.3 546.4H1125.5V815.4H1123.3ZM1125.3 540.3H1127.5V821.8H1125.3ZM1127.3 547.2H1129.5V827.1H1127.3ZM1129.3 546.7H1131.5V845.5H1129.3ZM1131.3 540.5H1133.5V823.6H1131.3ZM1133.3 546.7H1135.5V850.2H1133.3ZM1135.3 557.1H1137.5V832.1H1135.3ZM1137.3 564.1H1139.5V839.5H1137.3ZM1139.3 564.7H1141.5V846.7H1139.3ZM1141.3 573.7H1143.5V863.8H1141.3ZM1143.3 578.3H1145.5V860.1H1143.3ZM1145.3 577.6H1147.5V891.6H1145.3ZM1147.3 577.3H1149.5V867.7H1147.3ZM1149.3 574.2H1151.5V887.4H1149.3ZM1151.3 575.1H1153.5V870.6H1151.3ZM1153.3 576.5H1155.5V896.5H1153.3ZM1155.3 577.9H1157.5V893.7H1155.3ZM1157.3 568.7H1159.5V882.7H1157.3ZM1159.3 568.3H1161.5V893.4H1159.3ZM1161.3 569.7H1163.5V905.1H1161.3ZM1163.3 572.8H1165.5V892.5H1163.3ZM1165.3 563.1H1167.5V885.4H1165.3ZM1167.3 572H1169.5V912H1167.3ZM1169.3 571.6H1171.5V910.3H1169.3ZM1171.3 563.7H1173.5V928.5H1171.3ZM1173.3 564.8H1175.5V884.5H1173.3ZM1175.3 567.8H1177.5V913.5H1175.3ZM1177.3 576.7H1179.5V912.3H1177.3ZM1179.3 575.6H1181.5V926.9H1179.3ZM1181.3 577.2H1183.5V897.5H1181.3ZM1183.3 594.3H1185.5V924.1H1183.3ZM1185.3 601.3H1187.5V904H1185.3ZM1187.3 599.6H1189.5V950.3H1187.3ZM1189.3 587.4H1191.5V917.8H1189.3ZM1191.3 591.5H1193.5V920.7H1191.3ZM1193.3 596.9H1195.5V968.2H1193.3ZM1195.3 590.6H1197.5V967.1H1195.3ZM1197.3 594.6H1199.5V945.8H1197.3ZM1199.3 593.3H1201.5V954.5H1199.3ZM1201.3 590.5H1203.5V942.4H1201.3ZM1203.3 651H1205.5V915.8H1203.3ZM1205.3 588.7H1207.5V913.3H1205.3ZM1207.3 588.9H1209.5V910.8H1207.3ZM1209.3 580.9H1211.5V909.2H1209.3ZM1211.3 589.6H1213.5V907.6H1211.3ZM1213.3 580.3H1215.5V950H1213.3ZM1215.3 585.7H1217.5V942.2H1215.3ZM1217.3 593.9H1219.5V922.8H1217.3ZM1219.3 586.5H1221.5V929.7H1219.3ZM1221.3 664.3H1223.5V958.5H1221.3ZM1223.3 597H1225.5V1000.4H1223.3ZM1225.3 653.4H1227.5V954.6H1225.3ZM1227.3 604.2H1229.5V954.6H1227.3ZM1229.3 605.8H1231.5V954.6H1229.3ZM1231.3 599.8H1233.5V954.7H1231.3ZM1233.3 610.6H1235.5V972.5H1233.3ZM1235.3 612.6H1237.5V954.7H1235.3ZM1237.3 614.5H1239.5V1014H1237.3ZM1239.3 611.9H1241.5V1013.7H1239.3ZM1241.3 618.5H1243.5V1000.7H1241.3ZM1243.3 636.3H1245.5V954.9H1243.3ZM1245.3 620.5H1247.5V1010.9H1245.3ZM1247.3 622.7H1249.5V962.5H1247.3ZM1249.3 622.9H1251.5V968.8H1249.3ZM1251.3 629.2H1253.5V1048.1H1251.3ZM1253.3 638.7H1255.5V1013.9H1253.3ZM1255.3 629.6H1257.5V1029.5H1255.3ZM1257.3 643.5H1259.5V996.4H1257.3ZM1259.3 635.1H1261.5V1041.1H1259.3ZM1261.3 645.9H1263.5V978.9H1261.3ZM1263.3 868.7H1265.5V974.4H1263.3ZM1265.3 779.6H1267.5V970H1265.3ZM1267.3 651.2H1269.5V1044.7H1267.3ZM1269.3 662.8H1271.5V1044.8H1269.3ZM1271.3 896.6H1273.5V1013.1H1271.3ZM1273.3 664.1H1275.5V1038.3H1273.3ZM1275.3 671.1H1277.5V971.8H1275.3ZM1277.3 663.5H1279.5V1057.2H1277.3ZM1279.3 678.2H1281.5V1062.4H1279.3ZM1281.3 677.4H1283.5V981.1H1281.3ZM1283.3 825.7H1285.5V1036H1283.3ZM1285.3 674H1287.5V1060.7H1285.3ZM1287.3 822.2H1289.5V989.5H1287.3ZM1289.3 687.4H1291.5V1055.1H1289.3ZM1291.3 698.1H1293.5V994.4H1291.3ZM1293.3 824.3H1295.5V1016.7H1293.3ZM1295.3 721.3H1297.5V999.3H1295.3ZM1297.3 788H1299.5V1092.5H1297.3ZM1299.3 713.8H1301.5V1024H1299.3ZM1301.3 763.7H1303.5V889.6H1301.3ZM1303.3 746.7H1305.5V1067.9H1303.3ZM1305.3 767.7H1307.5V1030H1305.3ZM1307.3 739H1309.5V1111.5H1307.3ZM1309.3 859.2H1311.5V989.2H1309.3ZM1313.3 821.1H1315.5V1106.2H1313.3ZM1315.3 902H1317.5V1099.1H1315.3ZM1317.3 925.3H1319.5V1069.1H1317.3ZM1319.3 866.2H1321.5V975.1H1319.3ZM1323.3 779.6H1325.5V1121.3H1323.3ZM1325.3 759.8H1327.5V1039.5H1325.3ZM1329.3 759H1331.5V1064.2H1329.3ZM1331.3 848.7H1333.5V1088.6H1331.3ZM1333.3 782.6H1335.5V1057.9H1333.3ZM1335.3 825.9H1337.5V1015.3H1335.3ZM1343.3 911.2H1345.5V1121.8H1343.3Z" fill="#ff00ff"/>
<path d="M1003.3 708.4H1005.3V721.8H1003.3ZM1021.3 719.2H1023.3V720.7H1021.3ZM1043.3 753H1045.3V761H1043.3ZM1059.3 837.5H1061.3V850.1H1059.3ZM1083.3 783.7H1085.3V816.6H1083.3ZM1093.3 796.7H1095.3V811.4H1093.3ZM1121.3 820.5H1123.3V841.7H1121.3ZM1125.3 821.8H1127.3V823.2H1125.3ZM1137.3 839.5H1139.3V844.8H1137.3ZM1139.3 846.7H1141.3V880.8H1139.3ZM1159.3 893.4H1161.3V913H1159.3ZM1163.3 892.5H1165.3V929.3H1163.3ZM1207.3 910.8H1209.3V945.1H1207.3ZM1231.3 954.7H1233.3V961.3H1231.3ZM1247.3 962.5H1249.3V999H1247.3ZM1263.3 639.5H1265.3V868.7H1263.3ZM1263.3 974.4H1265.3V1032.8H1263.3ZM1265.3 655.9H1267.3V779.6H1265.3ZM1265.3 970H1267.3V997H1265.3ZM1271.3 665.5H1273.3V896.6H1271.3ZM1287.3 690.6H1289.3V822.2H1287.3ZM1287.3 989.5H1289.3V1017.6H1287.3ZM1291.3 994.4H1293.3V1059H1291.3ZM1295.3 999.3H1297.3V1069.9H1295.3ZM1311.3 724H1313.3V1139.9H1311.3ZM1315.3 740H1317.3V902H1315.3ZM1319.3 739.4H1321.3V866.2H1319.3ZM1327.3 825.7H1329.3V1108.5H1327.3ZM1341.3 923.8H1343.3V1118.2H1341.3Z" fill="#ff00ff" fill-opacity="0.65"/>
<path d="M975.3 681.2H977.3V695.5H975.3ZM977.3 683.4H979.3V701.6H977.3ZM1001.3 707.3H1003.3V714.9H1001.3ZM1017.3 716.1H1019.3V721.4H1017.3ZM1037.3 734.4H1039.3V750.7H1037.3ZM1045.3 763.1H1047.3V784.2H1045.3ZM1067.3 765.5H1069.3V791.5H1067.3ZM1079.3 781.1H1081.3V801H1079.3ZM1091.3 792.4H1093.3V821.5H1091.3ZM1107.3 806.7H1109.3V819.8H1107.3ZM1117.3 810.7H1119.3V813.2H1117.3ZM1131.3 823.6H1133.3V826.1H1131.3ZM1143.3 860.1H1145.3V872.2H1143.3ZM1203.3 591.4H1205.3V651H1203.3ZM1203.3 915.8H1205.3V938.4H1203.3ZM1205.3 913.3H1207.3V922.7H1205.3ZM1217.3 922.8H1219.3V938.3H1217.3ZM1221.3 595.5H1223.3V664.3H1221.3ZM1225.3 601.8H1227.3V653.4H1225.3ZM1225.3 954.6H1227.3V963.4H1225.3ZM1235.3 954.7H1237.3V965.8H1235.3ZM1243.3 621.5H1245.3V636.3H1243.3ZM1275.3 971.8H1277.3V984.3H1275.3ZM1283.3 684.4H1285.3V825.7H1283.3ZM1293.3 695.5H1295.3V824.3H1293.3ZM1301.3 889.6H1303.3V1043H1301.3ZM1309.3 762H1311.3V859.2H1309.3ZM1317.3 769.7H1319.3V925.3H1317.3ZM1337.3 864H1339.3V1097.1H1337.3ZM1339.3 885.4H1341.3V1022.1H1339.3Z" fill="#ff00ff" fill-opacity="0.35"/>
<path d="M303.3 380.5H305.5V399.5H303.3ZM305.3 359.2H307.5V381.2H305.3ZM307.3 356.2H309.5V370.5H307.3ZM309.3 357.2H311.5V366.9H309.3ZM311.3 349H313.5V360.2H311.3ZM313.3 352.4H315.5V365.5H313.3ZM315.3 359.2H317.5V372.4H315.3ZM317.3 364.2H319.5V374.1H317.3ZM319.3 355.1H321.5V365.1H319.3ZM321.3 358H323.5V368.5H321.3ZM323.3 354.4H325.5V362.5H323.3ZM325.3 353.7H327.5V360.1H325.3ZM327.3 352.4H329.5V358.8H327.3ZM329.3 351.3H331.5V358.2H329.3ZM331.3 356.5H333.5V364.3H331.3ZM333.3 353.4H335.5V359.7H333.3ZM335.3 354.1H337.5V361.2H335.3ZM337.3 348.8H339.5V356.7H337.3ZM339.3 352.2H341.5V363.3H339.3ZM341.3 348.1H343.5V358.3H341.3ZM343.3 344H345.5V353.8H343.3ZM345.3 339.2H347.5V349.2H345.3ZM347.3 339.6H349.5V348.8H347.3ZM349.3 335.2H351.5V343.5H349.3ZM351.3 331.1H353.5V340H351.3ZM353.3 332.1H355.5V339.2H353.3ZM355.3 334.2H357.5V343.1H355.3ZM357.3 338.1H359.5V347.4H357.3ZM359.3 338.8H361.5V348.4H359.3ZM361.3 343.4H363.5V351.8H361.3ZM363.3 341.8H365.5V351.2H363.3ZM365.3 338.4H367.5V349.7H365.3ZM367.3 340.1H369.5V350.2H367.3ZM369.3 327.2H371.5V340.4H369.3ZM371.3 329.5H373.5V336.2H371.3ZM373.3 330.1H375.5V336H373.3ZM375.3 330.1H377.5V337.1H375.3ZM377.3 329.1H379.5V335.4H377.3ZM379.3 331H381.5V336.7H379.3ZM381.3 329.7H383.5V334.7H381.3ZM383.3 330.9H385.5V336.5H383.3ZM385.3 332.6H387.5V338.7H385.3ZM387.3 330.4H389.5V336.4H387.3ZM389.3 328.5H391.5V336.1H389.3ZM391.3 330.8H393.5V337.7H391.3ZM393.3 328.8H395.5V336.5H393.3ZM395.3 327.9H397.5V336.1H395.3ZM397.3 321.6H399.5V329.1H397.3ZM399.3 328.8H401.5V337.3H399.3ZM401.3 323.9H403.5V329.5H401.3ZM403.3 317.9H405.5V325.5H403.3ZM405.3 324H407.5V331.1H405.3ZM407.3 325H409.5V331.9H407.3ZM409.3 326.1H411.5V333.3H409.3ZM411.3 330.4H413.5V337.1H411.3ZM413.3 327.1H415.5V333.5H413.3ZM415.3 324.2H417.5V329.9H415.3ZM417.3 321.2H419.5V328H417.3ZM419.3 327.7H421.5V334.9H419.3ZM421.3 324.2H423.5V331.2H421.3ZM423.3 321.2H425.5V327.7H423.3ZM425.3 325.3H427.5V332.7H425.3ZM427.3 319.2H429.5V326.9H427.3ZM429.3 316.4H431.5V323.6H429.3ZM431.3 313.7H433.5V322H431.3ZM433.3 310.4H435.5V318.3H433.3ZM435.3 313H437.5V322.5H435.3ZM437.3 310.6H439.5V318.8H437.3ZM439.3 303.7H441.5V316.9H439.3ZM441.3 308.6H443.5V350.7H441.3ZM443.3 340.6H445.5V383.8H443.3ZM445.3 375H447.5V401H445.3ZM447.3 382.1H449.5V397.9H447.3ZM449.3 370.6H451.5V386.6H449.3ZM451.3 359.1H453.5V375.4H451.3ZM453.3 346.1H455.5V364.7H453.3ZM455.3 339.4H457.5V354.5H455.3ZM457.3 336H459.5V347.7H457.3ZM459.3 335.3H461.5V346.7H459.3ZM461.3 326.4H463.5V337.5H461.3ZM463.3 313H465.5V326.7H463.3ZM465.3 323H467.5V332H465.3ZM467.3 320.3H469.5V327.7H467.3ZM469.3 314.3H471.5V321.6H469.3ZM471.3 311.4H473.5V318.3H471.3ZM473.3 309.7H475.5V317.4H473.3ZM475.3 313.5H477.5V321.7H475.3ZM477.3 307.8H479.5V315.6H477.3ZM479.3 304H481.5V311.3H479.3ZM481.3 306.5H483.5V313.9H481.3ZM483.3 310.4H485.5V319.5H483.3ZM485.3 314.2H487.5V321.7H485.3ZM487.3 315.5H489.5V324.1H487.3ZM489.3 316.9H491.5V326.2H489.3ZM491.3 314.5H493.5V323.3H491.3ZM493.3 321.4H495.5V329.6H493.3ZM495.3 322.1H497.5V329.1H495.3ZM497.3 323.4H499.5V331H497.3ZM499.3 319.5H501.5V327.3H499.3ZM501.3 317H503.5V323.9H501.3ZM503.3 318.9H505.5V326.1H503.3ZM505.3 315.3H507.5V321.1H505.3ZM507.3 319.2H509.5V324.8H507.3ZM509.3 318.4H511.5V324.4H509.3ZM511.3 317.4H513.5V324H511.3ZM513.3 318H515.5V327.1H513.3ZM515.3 326.2H517.5V334.2H515.3ZM517.3 325.2H519.5V333.2H517.3ZM519.3 320.8H521.5V329.5H519.3ZM521.3 329.2H523.5V340.3H521.3ZM523.3 327.2H525.5V334.9H523.3ZM525.3 331.8H527.5V340.2H525.3ZM527.3 335.9H529.5V344.8H527.3ZM529.3 337.2H531.5V345.6H529.3ZM531.3 336.5H533.5V343.8H531.3ZM533.3 340.2H535.5V346.7H533.3ZM535.3 343.4H537.5V351.5H535.3ZM537.3 342.2H539.5V349.9H537.3ZM539.3 342.1H541.5V350H539.3ZM541.3 344.1H543.5V351.9H541.3ZM543.3 341.9H545.5V350.9H543.3ZM545.3 348.6H547.5V358.7H545.3ZM547.3 339.5H549.5V348.7H547.3ZM549.3 337.2H551.5V345.2H549.3ZM551.3 333.7H553.5V340.8H551.3ZM553.3 334.4H555.5V341.6H553.3ZM555.3 329.4H557.5V337H555.3ZM557.3 336H559.5V344.5H557.3ZM559.3 333.6H561.5V342H559.3ZM561.3 334.5H563.5V342.8H561.3ZM563.3 341.7H565.5V349.3H563.3ZM565.3 342H567.5V349.3H565.3ZM567.3 337.9H569.5V347.9H567.3ZM569.3 334.5H571.5V342.9H569.3ZM571.3 336H573.5V343.9H571.3ZM573.3 334.5H575.5V341.9H573.3ZM575.3 331.4H577.5V338.3H575.3ZM577.3 332.7H579.5V339H577.3ZM579.3 333.9H581.5V341.6H579.3ZM581.3 333.3H583.5V341.1H581.3ZM583.3 334.8H585.5V342.6H583.3ZM585.3 337.2H587.5V345H585.3ZM587.3 337.7H589.5V347.6H587.3ZM589.3 347.3H591.5V358.1H589.3ZM591.3 345.9H593.5V354.8H591.3ZM593.3 340.6H595.5V349.7H593.3Z" fill="#ff00ff"/>
<path d="M1342 1100L1344 1150L1346 1200L1348 1239" fill="none" stroke="#ff00ff" stroke-width="2.0" stroke-linejoin="round"/></g>
</g>
<g stroke="#000" fill="none" stroke-linecap="square">
<path d="M301.3 74.3H1677.3" stroke-width="6"/>
<path d="M301.3 1240.8H1677.3" stroke-width="6.6"/>
<path d="M301.3 74.3V1240.8" stroke-width="5.4"/>
<path d="M1677.3 74.3V1240.8" stroke-width="5.6"/>
</g>
<path d="M301.3 1124.1h10M1677.3 1124.1h-10M301.3 1007.5h22.3M1677.3 1007.5h-22.3M301.3 890.8h10M1677.3 890.8h-10M301.3 774.2h22.3M1677.3 774.2h-22.3M301.3 657.5h10M1677.3 657.5h-10M301.3 540.9h22.3M1677.3 540.9h-22.3M301.3 424.2h10M1677.3 424.2h-10M301.3 307.6h22.3M1677.3 307.6h-22.3M301.3 191h10M1677.3 191h-10" stroke="#000" stroke-width="6" fill="none"/>
<path d="M416 74.3v10M416 1240.8v-10M530.6 74.3v22.3M530.6 1240.8v-22.3M645.3 74.3v10M645.3 1240.8v-10M760 74.3v22.3M760 1240.8v-22.3M874.6 74.3v10M874.6 1240.8v-10M989.3 74.3v22.3M989.3 1240.8v-22.3M1104 74.3v10M1104 1240.8v-10M1218.6 74.3v22.3M1218.6 1240.8v-22.3M1333.3 74.3v10M1333.3 1240.8v-10M1448 74.3v22.3M1448 1240.8v-22.3M1562.6 74.3v10M1562.6 1240.8v-10" stroke="#000" stroke-width="5" fill="none"/>
<g stroke="#dc0000" fill="none" stroke-width="4.2">
<ellipse cx="1475" cy="1189" rx="172" ry="43"/>
<path d="M1302 1189L1164 1125" stroke-width="2.2"/>
<path d="M1155 1121L1187 1123.8L1172.5 1129.2L1177.6 1143.6Z" fill="#dc0000" stroke="none"/>
</g>
<g font-family="'Liberation Serif','Noto Serif CJK SC',serif" fill="#000">
<g font-size="68" text-anchor="end">
<text transform="translate(278.6 1259.3) scale(.95 1)">0</text>
<text transform="translate(278.6 1026) scale(.95 1)">500</text>
<text transform="translate(278.6 792.7) scale(.95 1)">1000</text>
<text transform="translate(278.6 559.4) scale(.95 1)">1500</text>
<text transform="translate(278.6 326.1) scale(.95 1)">2000</text>
<text transform="translate(278.6 92.4) scale(.95 1)">2500</text>
</g>
<g font-size="68" text-anchor="middle">
<text transform="translate(301.6 1315) scale(.945 1)">0</text>
<text transform="translate(530.9 1315) scale(.945 1)">100</text>
<text transform="translate(760.3 1315) scale(.945 1)">200</text>
<text transform="translate(989.6 1315) scale(.945 1)">300</text>
<text transform="translate(1218.9 1315) scale(.945 1)">400</text>
<text transform="translate(1448.3 1315) scale(.945 1)">500</text>
<text transform="translate(1677.6 1315) scale(.945 1)">600</text>
</g>
<text transform="translate(848.3 1425.3) scale(.93 1)" font-size="70"><tspan x="0">Time</tspan><tspan x="144" dy="-2.5" font-size="58">（</tspan><tspan x="208.3" dy="2.5">s</tspan><tspan x="244" dy="-2.5" font-size="58">）</tspan></text>
<text transform="translate(86.5 915.6) rotate(-90) scale(.945 1)" font-size="70"><tspan x="0">Holding force</tspan><tspan x="389" dy="-3.8" font-size="62">（</tspan><tspan x="456.6" dy="3.8">kN</tspan><tspan x="552.3" dy="-3.8" font-size="62">）</tspan></text>
<g font-size="54">
<path d="M413 761.7H530" stroke="#000000" stroke-width="2.7"/>
<text transform="translate(540.3 779.2) scale(.965 1)">H=16m</text>
<path d="M413 827.3H530" stroke="#ff0000" stroke-width="2.7"/>
<text transform="translate(540.3 846.4) scale(.965 1)">H=18m</text>
<path d="M413 895.5H530" stroke="#0033ff" stroke-width="2.7"/>
<text transform="translate(540.3 914.6) scale(.965 1)">H=20m</text>
<path d="M413 963.7H530" stroke="#ff00ff" stroke-width="2.7"/>
<text transform="translate(540.3 982.8) scale(.965 1)">H=23m</text>
</g>
<text transform="translate(658.6 1109.6) scale(1.075 1)" font-size="70">Gate stop motion</text>
</g>
</svg>
</body></html>
